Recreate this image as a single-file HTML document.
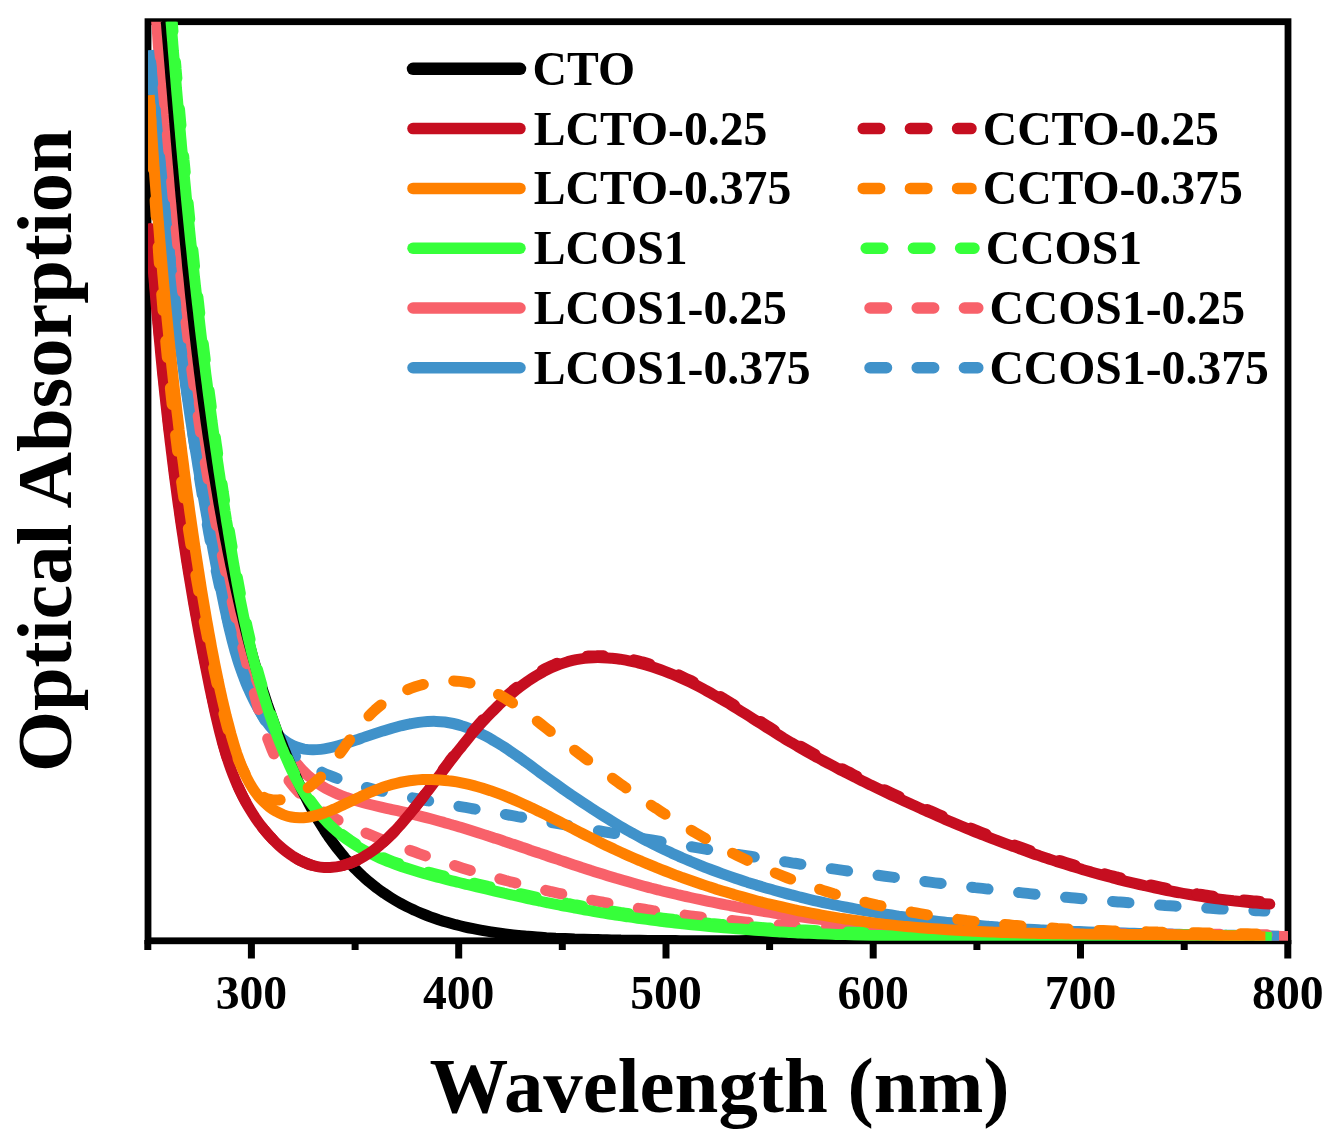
<!DOCTYPE html>
<html><head><meta charset="utf-8"><style>
html,body{margin:0;padding:0;background:#fff;}
svg{display:block;will-change:transform;}
text{font-family:"Liberation Serif",serif;font-weight:bold;fill:#000;}
.tl{font-size:47.7px;}
.at{font-size:78.8px;}
.lg{font-size:47.7px;}
</style></head><body>
<svg width="1336" height="1144" viewBox="0 0 1336 1144">
<defs><clipPath id="pc"><rect x="148" y="21.7" width="1140" height="919.1"/></clipPath></defs>
<rect x="148" y="21.7" width="1140" height="919.1" fill="none" stroke="#000" stroke-width="6.8"/>
<line x1="147.8" y1="940" x2="147.8" y2="950.0" stroke="#000" stroke-width="7"/>
<line x1="251.4" y1="940" x2="251.4" y2="958.5" stroke="#000" stroke-width="7"/>
<text x="251.4" y="1009" text-anchor="middle" class="tl">300</text>
<line x1="355.1" y1="940" x2="355.1" y2="950.0" stroke="#000" stroke-width="7"/>
<line x1="458.7" y1="940" x2="458.7" y2="958.5" stroke="#000" stroke-width="7"/>
<text x="458.7" y="1009" text-anchor="middle" class="tl">400</text>
<line x1="562.3" y1="940" x2="562.3" y2="950.0" stroke="#000" stroke-width="7"/>
<line x1="666.0" y1="940" x2="666.0" y2="958.5" stroke="#000" stroke-width="7"/>
<text x="666.0" y="1009" text-anchor="middle" class="tl">500</text>
<line x1="769.6" y1="940" x2="769.6" y2="950.0" stroke="#000" stroke-width="7"/>
<line x1="873.2" y1="940" x2="873.2" y2="958.5" stroke="#000" stroke-width="7"/>
<text x="873.2" y="1009" text-anchor="middle" class="tl">600</text>
<line x1="976.9" y1="940" x2="976.9" y2="950.0" stroke="#000" stroke-width="7"/>
<line x1="1080.5" y1="940" x2="1080.5" y2="958.5" stroke="#000" stroke-width="7"/>
<text x="1080.5" y="1009" text-anchor="middle" class="tl">700</text>
<line x1="1184.2" y1="940" x2="1184.2" y2="950.0" stroke="#000" stroke-width="7"/>
<line x1="1287.8" y1="940" x2="1287.8" y2="958.5" stroke="#000" stroke-width="7"/>
<text x="1287.8" y="1009" text-anchor="middle" class="tl">800</text>
<g clip-path="url(#pc)" fill="none" stroke-linecap="round" stroke-linejoin="round">
<path d="M156.2 14.5 C156.3 16.1 156.6 20.6 156.8 23.7 C157.1 26.7 157.3 29.8 157.5 32.8 C157.7 35.9 157.9 38.9 158.1 42.0 C158.3 45.0 158.6 48.1 158.8 51.1 C159.0 54.1 159.2 57.2 159.5 60.2 C159.7 63.3 159.9 66.3 160.1 69.3 C160.4 72.4 160.6 75.4 160.9 78.4 C161.1 81.4 161.3 84.5 161.6 87.5 C161.8 90.5 162.1 93.6 162.3 96.6 C162.6 99.6 162.8 102.6 163.1 105.6 C163.3 108.7 163.6 111.7 163.8 114.7 C164.1 117.7 164.4 120.7 164.6 123.7 C164.9 126.8 165.2 129.8 165.4 132.8 C165.7 135.8 166.0 138.8 166.2 141.8 C166.5 144.8 166.8 147.8 167.1 150.8 C167.4 153.8 167.6 156.8 167.9 159.8 C168.2 162.9 168.5 165.9 168.8 168.9 C169.1 171.9 169.4 174.9 169.7 177.9 C170.0 180.9 170.2 183.9 170.5 186.9 C170.8 189.9 171.1 192.9 171.5 195.8 C171.8 198.8 172.1 201.8 172.4 204.8 C172.7 207.8 173.0 210.8 173.3 213.8 C173.6 216.8 173.9 219.8 174.3 222.8 C174.6 225.8 174.9 228.8 175.2 231.8 C175.5 234.7 175.9 237.7 176.2 240.7 C176.5 243.7 176.9 246.7 177.2 249.7 C177.5 252.7 177.9 255.7 178.2 258.7 C178.5 261.6 178.9 264.6 179.2 267.6 C179.6 270.6 179.9 273.6 180.3 276.6 C180.6 279.6 181.0 282.5 181.3 285.5 C181.7 288.5 182.0 291.5 182.4 294.5 C182.7 297.5 183.1 300.4 183.5 303.4 C183.8 306.4 184.2 309.4 184.5 312.4 C184.9 315.4 185.3 318.3 185.7 321.3 C186.0 324.3 186.4 327.3 186.8 330.3 C187.2 333.3 187.5 336.3 187.9 339.2 C188.3 342.2 188.7 345.2 189.1 348.2 C189.4 351.2 189.8 354.2 190.2 357.1 C190.6 360.1 191.0 363.1 191.4 366.1 C191.8 369.1 192.2 372.1 192.6 375.1 C193.0 378.0 193.4 381.0 193.8 384.0 C194.2 387.0 194.6 390.0 195.0 393.0 C195.4 396.0 195.8 399.0 196.2 401.9 C196.6 404.9 197.1 407.9 197.5 410.9 C197.9 413.9 198.3 416.9 198.7 419.9 C199.2 422.9 199.6 425.9 200.0 428.9 C200.4 431.9 200.9 434.8 201.3 437.8 C201.7 440.8 202.1 443.8 202.6 446.8 C203.0 449.8 203.4 452.8 203.9 455.8 C204.3 458.8 204.8 461.8 205.2 464.8 C205.6 467.8 206.1 470.8 206.5 473.8 C207.0 476.8 207.4 479.8 207.9 482.8 C208.3 485.8 208.8 488.8 209.2 491.8 C209.7 494.9 210.2 497.9 210.6 500.9 C211.1 503.9 211.5 506.9 212.0 509.9 C212.5 512.9 212.9 515.9 213.4 518.9 C213.9 521.9 214.4 525.0 214.8 528.0 C215.3 531.0 215.8 534.0 216.3 537.0 C216.8 540.0 217.3 543.0 217.8 546.0 C218.3 549.0 218.9 552.0 219.4 555.0 C219.9 558.0 220.5 561.0 221.0 564.0 C221.6 567.0 222.1 570.0 222.7 573.0 C223.3 576.0 223.9 579.0 224.5 582.0 C225.1 584.9 225.7 587.9 226.3 590.9 C226.9 593.9 227.6 596.8 228.2 599.8 C228.9 602.7 229.6 605.7 230.3 608.6 C230.9 611.6 231.7 614.5 232.4 617.5 C233.1 620.4 233.9 623.3 234.6 626.3 C235.4 629.2 236.2 632.1 237.0 635.0 C237.8 637.9 238.6 640.8 239.4 643.7 C240.3 646.6 241.2 649.4 242.1 652.3 C242.9 655.2 243.9 658.0 244.8 660.9 C245.7 663.7 246.7 666.6 247.7 669.4 C248.7 672.2 249.7 675.1 250.8 677.9 C251.8 680.7 252.9 683.5 254.0 686.3 C255.1 689.0 256.2 691.8 257.3 694.6 C258.5 697.3 259.7 700.1 260.9 702.8 C262.1 705.6 263.4 708.3 264.6 711.0 C265.9 713.7 267.2 716.4 268.6 719.1 C269.9 721.7 271.3 724.4 272.7 727.1 C274.1 729.7 275.6 732.3 277.0 735.0 C278.5 737.6 280.1 740.1 281.6 742.7 C283.2 745.2 284.8 747.7 286.5 750.2 C288.1 752.6 289.8 755.1 291.6 757.4 C293.4 759.7 295.2 762.0 297.1 764.2 C299.0 766.4 300.9 768.6 302.9 770.6 C304.9 772.7 307.0 774.7 309.1 776.6 C311.3 778.4 313.5 780.2 315.8 781.9 C318.0 783.6 320.4 785.1 322.8 786.6 C325.3 788.1 327.8 789.4 330.3 790.7 C332.9 792.0 335.5 793.2 338.2 794.3 C340.8 795.5 343.6 796.5 346.3 797.5 C349.1 798.5 351.9 799.4 354.8 800.3 C357.6 801.2 360.5 802.0 363.4 802.8 C366.3 803.6 369.3 804.3 372.3 805.0 C375.2 805.7 378.2 806.4 381.2 807.1 C384.2 807.8 387.2 808.5 390.2 809.1 C393.2 809.8 396.3 810.4 399.3 811.1 C402.3 811.8 405.3 812.5 408.3 813.2 C411.3 813.9 414.3 814.6 417.3 815.4 C420.3 816.1 423.2 816.8 426.2 817.6 C429.2 818.4 432.1 819.2 435.1 820.0 C438.0 820.8 441.0 821.6 443.9 822.4 C446.9 823.3 449.8 824.1 452.7 825.0 C455.6 825.8 458.5 826.7 461.5 827.6 C464.4 828.5 467.3 829.4 470.2 830.3 C473.1 831.2 476.0 832.1 478.8 833.0 C481.7 833.9 484.6 834.8 487.5 835.8 C490.4 836.7 493.3 837.7 496.1 838.6 C499.0 839.5 501.9 840.5 504.7 841.5 C507.6 842.4 510.5 843.4 513.3 844.3 C516.2 845.3 519.0 846.3 521.9 847.3 C524.7 848.2 527.6 849.2 530.4 850.2 C533.3 851.1 536.1 852.1 539.0 853.1 C541.8 854.1 544.7 855.0 547.5 856.0 C550.4 857.0 553.2 857.9 556.1 858.9 C558.9 859.9 561.8 860.8 564.6 861.8 C567.5 862.8 570.3 863.7 573.2 864.7 C576.0 865.6 578.9 866.5 581.7 867.5 C584.6 868.4 587.4 869.3 590.3 870.3 C593.2 871.2 596.0 872.1 598.9 873.0 C601.8 873.9 604.6 874.8 607.5 875.7 C610.4 876.6 613.2 877.4 616.1 878.3 C619.0 879.1 621.9 880.0 624.8 880.8 C627.7 881.7 630.6 882.5 633.5 883.3 C636.3 884.1 639.2 884.9 642.2 885.7 C645.1 886.5 648.0 887.2 650.9 888.0 C653.8 888.7 656.7 889.5 659.6 890.2 C662.6 891.0 665.5 891.7 668.4 892.4 C671.3 893.1 674.3 893.8 677.2 894.5 C680.2 895.2 683.1 895.9 686.0 896.5 C689.0 897.2 691.9 897.8 694.9 898.5 C697.8 899.1 700.8 899.8 703.7 900.4 C706.7 901.0 709.6 901.6 712.6 902.2 C715.6 902.8 718.5 903.4 721.5 904.0 C724.5 904.6 727.4 905.1 730.4 905.7 C733.4 906.2 736.4 906.8 739.3 907.3 C742.3 907.9 745.3 908.4 748.3 908.9 C751.3 909.4 754.2 909.9 757.2 910.4 C760.2 910.9 763.2 911.4 766.2 911.9 C769.2 912.3 772.2 912.8 775.2 913.3 C778.2 913.7 781.2 914.2 784.2 914.6 C787.2 915.0 790.2 915.5 793.2 915.9 C796.2 916.3 799.2 916.7 802.2 917.1 C805.2 917.5 808.2 917.9 811.2 918.3 C814.2 918.7 817.2 919.0 820.2 919.4 C823.2 919.8 826.2 920.1 829.2 920.5 C832.2 920.8 835.3 921.2 838.3 921.5 C841.3 921.8 844.3 922.2 847.3 922.5 C850.3 922.8 853.3 923.1 856.3 923.4 C859.4 923.7 862.4 924.0 865.4 924.3 C868.4 924.5 871.4 924.8 874.4 925.1 C877.4 925.4 880.5 925.6 883.5 925.9 C886.5 926.1 889.5 926.4 892.5 926.6 C895.5 926.8 898.5 927.1 901.6 927.3 C904.6 927.5 907.6 927.7 910.6 927.9 C913.6 928.1 916.6 928.4 919.6 928.5 C922.7 928.7 925.7 928.9 928.7 929.1 C931.7 929.3 934.7 929.5 937.7 929.7 C940.7 929.8 943.8 930.0 946.8 930.1 C949.8 930.3 952.8 930.5 955.8 930.6 C958.8 930.8 961.8 930.9 964.9 931.0 C967.9 931.2 970.9 931.3 973.9 931.4 C976.9 931.6 979.9 931.7 982.9 931.8 C986.0 931.9 989.0 932.0 992.0 932.1 C995.0 932.3 998.0 932.4 1001.0 932.5 C1004.0 932.6 1007.1 932.7 1010.1 932.7 C1013.1 932.8 1016.1 932.9 1019.1 933.0 C1022.1 933.1 1025.2 933.2 1028.2 933.2 C1031.2 933.3 1034.2 933.4 1037.2 933.5 C1040.2 933.5 1043.2 933.6 1046.3 933.7 C1049.3 933.7 1052.3 933.8 1055.3 933.8 C1058.3 933.9 1061.3 933.9 1064.4 934.0 C1067.4 934.0 1070.4 934.1 1073.4 934.1 C1076.4 934.2 1079.4 934.2 1082.5 934.3 C1085.5 934.3 1088.5 934.3 1091.5 934.4 C1094.5 934.4 1097.5 934.5 1100.6 934.5 C1103.6 934.5 1106.6 934.6 1109.6 934.6 C1112.6 934.6 1115.7 934.6 1118.7 934.7 C1121.7 934.7 1124.7 934.7 1127.7 934.8 C1130.8 934.8 1133.8 934.8 1136.8 934.8 C1139.8 934.9 1142.8 934.9 1145.8 934.9 C1148.9 934.9 1151.9 934.9 1154.9 935.0 C1157.9 935.0 1160.9 935.0 1164.0 935.0 C1167.0 935.1 1170.0 935.1 1173.0 935.1 C1176.1 935.1 1179.1 935.1 1182.1 935.2 C1185.1 935.2 1188.1 935.2 1191.2 935.2 C1194.2 935.3 1197.2 935.3 1200.2 935.3 C1203.3 935.3 1206.3 935.4 1209.3 935.4 C1212.3 935.4 1215.4 935.4 1218.4 935.5 C1221.4 935.5 1224.4 935.5 1227.4 935.6 C1230.5 935.6 1233.5 935.6 1236.5 935.7 C1239.5 935.7 1242.6 935.7 1245.6 935.8 C1248.6 935.8 1251.7 935.9 1254.7 935.9 C1257.7 936.0 1260.7 936.0 1263.8 936.1 C1266.8 936.1 1269.8 936.2 1272.8 936.2 C1275.9 936.3 1278.9 936.3 1281.9 936.4 C1285.0 936.5 1288.0 936.5 1291.0 936.6 C1294.0 936.7 1298.6 936.8 1300.1 936.8" stroke="#F8616A" stroke-width="11" stroke-linecap="butt"/>
<path d="M149.7 50.2 C149.8 51.7 150.2 56.2 150.4 59.2 C150.7 62.2 150.9 65.2 151.2 68.2 C151.5 71.2 151.7 74.2 152.0 77.2 C152.2 80.2 152.5 83.2 152.8 86.2 C153.0 89.2 153.3 92.2 153.6 95.2 C153.8 98.2 154.1 101.2 154.4 104.2 C154.6 107.2 154.9 110.2 155.2 113.2 C155.5 116.3 155.7 119.3 156.0 122.3 C156.3 125.3 156.6 128.3 156.9 131.3 C157.1 134.3 157.4 137.3 157.7 140.3 C158.0 143.4 158.3 146.4 158.6 149.4 C158.9 152.4 159.2 155.4 159.5 158.4 C159.8 161.4 160.1 164.4 160.4 167.5 C160.7 170.5 161.0 173.5 161.3 176.5 C161.6 179.5 161.9 182.5 162.2 185.6 C162.5 188.6 162.8 191.6 163.1 194.6 C163.4 197.6 163.8 200.7 164.1 203.7 C164.4 206.7 164.7 209.7 165.0 212.7 C165.4 215.7 165.7 218.8 166.0 221.8 C166.3 224.8 166.7 227.8 167.0 230.8 C167.3 233.9 167.7 236.9 168.0 239.9 C168.3 242.9 168.7 245.9 169.0 249.0 C169.3 252.0 169.7 255.0 170.0 258.0 C170.4 261.0 170.7 264.0 171.1 267.1 C171.4 270.1 171.8 273.1 172.1 276.1 C172.5 279.1 172.8 282.1 173.2 285.2 C173.5 288.2 173.9 291.2 174.3 294.2 C174.6 297.2 175.0 300.2 175.4 303.3 C175.7 306.3 176.1 309.3 176.5 312.3 C176.8 315.3 177.2 318.3 177.6 321.3 C178.0 324.3 178.3 327.4 178.7 330.4 C179.1 333.4 179.5 336.4 179.9 339.4 C180.3 342.4 180.7 345.4 181.0 348.4 C181.4 351.4 181.8 354.4 182.2 357.4 C182.6 360.4 183.0 363.5 183.4 366.5 C183.8 369.5 184.2 372.5 184.6 375.5 C185.0 378.5 185.4 381.5 185.9 384.5 C186.3 387.5 186.7 390.5 187.1 393.5 C187.5 396.5 187.9 399.4 188.4 402.4 C188.8 405.4 189.2 408.4 189.6 411.4 C190.0 414.4 190.5 417.4 190.9 420.4 C191.3 423.4 191.8 426.4 192.2 429.4 C192.6 432.3 193.1 435.3 193.5 438.3 C194.0 441.3 194.4 444.3 194.9 447.3 C195.3 450.2 195.8 453.2 196.2 456.2 C196.7 459.2 197.1 462.1 197.6 465.1 C198.0 468.1 198.5 471.1 198.9 474.0 C199.4 477.0 199.9 480.0 200.3 482.9 C200.8 485.9 201.3 488.9 201.8 491.8 C202.2 494.8 202.7 497.7 203.2 500.7 C203.7 503.7 204.2 506.6 204.7 509.6 C205.2 512.5 205.7 515.5 206.2 518.5 C206.7 521.4 207.2 524.4 207.8 527.3 C208.3 530.3 208.8 533.3 209.4 536.2 C209.9 539.2 210.5 542.1 211.0 545.1 C211.6 548.1 212.2 551.0 212.8 554.0 C213.3 556.9 213.9 559.9 214.5 562.9 C215.1 565.8 215.7 568.8 216.4 571.7 C217.0 574.7 217.6 577.7 218.3 580.6 C218.9 583.6 219.6 586.6 220.3 589.6 C221.0 592.5 221.6 595.5 222.3 598.5 C223.0 601.4 223.8 604.4 224.5 607.4 C225.2 610.4 226.0 613.4 226.7 616.3 C227.5 619.3 228.3 622.3 229.1 625.3 C229.9 628.3 230.7 631.3 231.5 634.3 C232.4 637.3 233.2 640.3 234.1 643.3 C234.9 646.3 235.8 649.3 236.7 652.3 C237.6 655.3 238.6 658.3 239.5 661.3 C240.5 664.2 241.5 667.2 242.5 670.2 C243.5 673.1 244.6 676.1 245.6 679.0 C246.7 681.9 247.8 684.8 249.0 687.7 C250.2 690.5 251.4 693.4 252.6 696.2 C253.8 699.0 255.1 701.7 256.4 704.5 C257.8 707.2 259.1 709.9 260.6 712.5 C262.0 715.2 263.5 717.8 265.0 720.3 C266.5 722.8 268.1 725.3 269.7 727.7 C271.4 730.2 273.1 732.5 274.8 734.8 C276.6 737.2 278.4 739.4 280.3 741.6 C282.2 743.7 284.2 745.8 286.2 747.9 C288.2 749.9 290.3 751.8 292.5 753.7 C294.6 755.5 296.9 757.3 299.2 759.0 C301.5 760.7 303.9 762.3 306.4 763.8 C308.8 765.4 311.4 766.8 313.9 768.2 C316.5 769.6 319.2 770.9 321.8 772.1 C324.5 773.4 327.3 774.6 330.0 775.7 C332.8 776.8 335.6 777.9 338.5 778.9 C341.3 779.9 344.2 780.9 347.1 781.8 C350.0 782.8 353.0 783.6 355.9 784.5 C358.9 785.4 361.8 786.2 364.8 787.0 C367.8 787.8 370.7 788.5 373.7 789.3 C376.7 790.0 379.7 790.7 382.7 791.4 C385.6 792.2 388.6 792.8 391.6 793.5 C394.6 794.2 397.6 794.8 400.6 795.4 C403.6 796.1 406.6 796.7 409.6 797.3 C412.6 797.9 415.6 798.5 418.6 799.0 C421.6 799.6 424.6 800.2 427.6 800.7 C430.6 801.3 433.6 801.8 436.6 802.4 C439.6 802.9 442.6 803.5 445.6 804.0 C448.6 804.5 451.6 805.0 454.6 805.6 C457.6 806.1 460.6 806.6 463.6 807.1 C466.6 807.6 469.6 808.2 472.6 808.7 C475.6 809.2 478.6 809.7 481.6 810.3 C484.6 810.8 487.6 811.3 490.6 811.8 C493.6 812.4 496.6 812.9 499.6 813.4 C502.6 813.9 505.6 814.5 508.6 815.0 C511.6 815.5 514.6 816.0 517.5 816.6 C520.5 817.1 523.5 817.6 526.5 818.1 C529.5 818.7 532.5 819.2 535.5 819.7 C538.5 820.2 541.4 820.8 544.4 821.3 C547.4 821.8 550.4 822.3 553.4 822.9 C556.4 823.4 559.3 823.9 562.3 824.4 C565.3 825.0 568.3 825.5 571.3 826.0 C574.3 826.5 577.2 827.1 580.2 827.6 C583.2 828.1 586.2 828.6 589.2 829.2 C592.1 829.7 595.1 830.2 598.1 830.7 C601.1 831.2 604.0 831.8 607.0 832.3 C610.0 832.8 613.0 833.3 616.0 833.8 C618.9 834.4 621.9 834.9 624.9 835.4 C627.9 835.9 630.8 836.4 633.8 836.9 C636.8 837.4 639.8 838.0 642.8 838.5 C645.7 839.0 648.7 839.5 651.7 840.0 C654.7 840.5 657.6 841.0 660.6 841.5 C663.6 842.0 666.6 842.6 669.5 843.1 C672.5 843.6 675.5 844.1 678.5 844.6 C681.5 845.1 684.4 845.6 687.4 846.1 C690.4 846.6 693.4 847.1 696.4 847.6 C699.3 848.1 702.3 848.6 705.3 849.1 C708.3 849.6 711.3 850.0 714.2 850.5 C717.2 851.0 720.2 851.5 723.2 852.0 C726.2 852.5 729.2 853.0 732.1 853.5 C735.1 853.9 738.1 854.4 741.1 854.9 C744.1 855.4 747.1 855.9 750.0 856.3 C753.0 856.8 756.0 857.3 759.0 857.8 C762.0 858.2 765.0 858.7 768.0 859.2 C771.0 859.6 774.0 860.1 776.9 860.6 C779.9 861.0 782.9 861.5 785.9 861.9 C788.9 862.4 791.9 862.8 794.9 863.3 C797.9 863.8 800.9 864.2 803.9 864.7 C806.9 865.1 809.9 865.6 812.9 866.0 C815.9 866.4 818.9 866.9 821.9 867.3 C824.9 867.8 827.9 868.2 830.9 868.6 C833.9 869.1 836.9 869.5 839.9 869.9 C842.9 870.4 845.9 870.8 848.9 871.2 C851.9 871.7 854.9 872.1 857.9 872.5 C860.9 872.9 863.9 873.3 866.9 873.8 C869.9 874.2 872.9 874.6 875.9 875.0 C878.9 875.4 881.9 875.8 884.9 876.2 C887.9 876.6 890.9 877.0 893.9 877.4 C896.9 877.8 899.9 878.2 902.9 878.6 C905.9 879.0 908.9 879.4 911.9 879.8 C915.0 880.2 918.0 880.6 921.0 881.0 C924.0 881.3 927.0 881.7 930.0 882.1 C933.0 882.5 936.0 882.9 939.0 883.2 C942.0 883.6 945.0 884.0 948.1 884.4 C951.1 884.7 954.1 885.1 957.1 885.4 C960.1 885.8 963.1 886.2 966.1 886.5 C969.1 886.9 972.2 887.2 975.2 887.6 C978.2 887.9 981.2 888.3 984.2 888.6 C987.2 889.0 990.2 889.3 993.2 889.7 C996.3 890.0 999.3 890.3 1002.3 890.7 C1005.3 891.0 1008.3 891.3 1011.3 891.7 C1014.4 892.0 1017.4 892.3 1020.4 892.6 C1023.4 892.9 1026.4 893.3 1029.4 893.6 C1032.5 893.9 1035.5 894.2 1038.5 894.5 C1041.5 894.8 1044.5 895.1 1047.5 895.4 C1050.6 895.7 1053.6 896.0 1056.6 896.3 C1059.6 896.6 1062.6 896.9 1065.6 897.2 C1068.7 897.5 1071.7 897.8 1074.7 898.0 C1077.7 898.3 1080.7 898.6 1083.8 898.9 C1086.8 899.2 1089.8 899.4 1092.8 899.7 C1095.8 900.0 1098.8 900.2 1101.9 900.5 C1104.9 900.7 1107.9 901.0 1110.9 901.3 C1113.9 901.5 1117.0 901.8 1120.0 902.0 C1123.0 902.3 1126.0 902.5 1129.0 902.7 C1132.1 903.0 1135.1 903.2 1138.1 903.5 C1141.1 903.7 1144.1 903.9 1147.2 904.1 C1150.2 904.4 1153.2 904.6 1156.2 904.8 C1159.2 905.0 1162.3 905.2 1165.3 905.5 C1168.3 905.7 1171.3 905.9 1174.3 906.1 C1177.4 906.3 1180.4 906.5 1183.4 906.7 C1186.4 906.9 1189.4 907.1 1192.5 907.3 C1195.5 907.4 1198.5 907.6 1201.5 907.8 C1204.5 908.0 1207.6 908.2 1210.6 908.3 C1213.6 908.5 1216.6 908.7 1219.6 908.9 C1222.7 909.0 1225.7 909.2 1228.7 909.3 C1231.7 909.5 1234.7 909.7 1237.8 909.8 C1240.8 910.0 1243.8 910.1 1246.8 910.2 C1249.8 910.4 1252.9 910.5 1255.9 910.7 C1258.9 910.8 1263.4 911.0 1264.9 911.0" stroke="#4092CA" stroke-width="11" stroke-dasharray="16.5 30.7" stroke-dashoffset="-6"/>
<path d="M149.3 50.2 C149.4 51.7 149.9 56.2 150.2 59.2 C150.5 62.1 150.8 65.1 151.1 68.1 C151.4 71.1 151.7 74.1 152.0 77.1 C152.3 80.1 152.6 83.1 152.8 86.1 C153.1 89.1 153.4 92.1 153.7 95.1 C154.0 98.1 154.3 101.1 154.6 104.1 C154.9 107.1 155.2 110.1 155.5 113.2 C155.8 116.2 156.0 119.2 156.3 122.2 C156.6 125.2 156.9 128.2 157.2 131.2 C157.5 134.2 157.8 137.2 158.1 140.2 C158.4 143.3 158.7 146.3 158.9 149.3 C159.2 152.3 159.5 155.3 159.8 158.3 C160.1 161.3 160.4 164.4 160.7 167.4 C161.0 170.4 161.3 173.4 161.6 176.4 C161.9 179.4 162.2 182.5 162.5 185.5 C162.8 188.5 163.1 191.5 163.4 194.5 C163.6 197.5 163.9 200.6 164.3 203.6 C164.6 206.6 164.9 209.6 165.2 212.6 C165.5 215.7 165.8 218.7 166.1 221.7 C166.4 224.7 166.7 227.7 167.0 230.7 C167.3 233.8 167.6 236.8 167.9 239.8 C168.3 242.8 168.6 245.8 168.9 248.8 C169.2 251.9 169.5 254.9 169.9 257.9 C170.2 260.9 170.5 263.9 170.8 266.9 C171.2 270.0 171.5 273.0 171.8 276.0 C172.2 279.0 172.5 282.0 172.9 285.0 C173.2 288.0 173.5 291.0 173.9 294.1 C174.2 297.1 174.6 300.1 174.9 303.1 C175.3 306.1 175.6 309.1 176.0 312.1 C176.4 315.1 176.7 318.1 177.1 321.1 C177.5 324.1 177.8 327.1 178.2 330.1 C178.6 333.1 179.0 336.1 179.3 339.1 C179.7 342.1 180.1 345.1 180.5 348.1 C180.9 351.1 181.3 354.1 181.7 357.1 C182.1 360.1 182.5 363.1 182.9 366.1 C183.3 369.1 183.7 372.1 184.1 375.1 C184.5 378.0 185.0 381.0 185.4 384.0 C185.8 387.0 186.2 390.0 186.7 393.0 C187.1 396.0 187.5 398.9 188.0 401.9 C188.4 404.9 188.8 407.9 189.3 410.9 C189.7 413.9 190.2 416.8 190.6 419.8 C191.1 422.8 191.5 425.8 192.0 428.8 C192.5 431.7 192.9 434.7 193.4 437.7 C193.9 440.7 194.4 443.6 194.8 446.6 C195.3 449.6 195.8 452.6 196.3 455.5 C196.8 458.5 197.3 461.5 197.7 464.5 C198.2 467.4 198.7 470.4 199.2 473.4 C199.7 476.4 200.3 479.3 200.8 482.3 C201.3 485.3 201.8 488.3 202.3 491.2 C202.8 494.2 203.3 497.2 203.9 500.1 C204.4 503.1 204.9 506.1 205.5 509.1 C206.0 512.0 206.5 515.0 207.1 518.0 C207.6 521.0 208.2 523.9 208.7 526.9 C209.3 529.9 209.8 532.8 210.4 535.8 C210.9 538.8 211.5 541.8 212.1 544.7 C212.6 547.7 213.2 550.7 213.8 553.7 C214.4 556.6 214.9 559.6 215.5 562.6 C216.1 565.6 216.7 568.5 217.3 571.5 C217.9 574.5 218.5 577.5 219.1 580.4 C219.7 583.4 220.3 586.4 220.9 589.4 C221.5 592.3 222.1 595.3 222.7 598.3 C223.3 601.3 223.9 604.3 224.5 607.2 C225.2 610.2 225.8 613.2 226.5 616.2 C227.1 619.2 227.8 622.1 228.4 625.1 C229.1 628.1 229.8 631.1 230.6 634.0 C231.3 637.0 232.0 639.9 232.8 642.9 C233.6 645.9 234.4 648.8 235.2 651.7 C236.1 654.7 237.0 657.6 237.9 660.6 C238.8 663.5 239.8 666.4 240.8 669.3 C241.8 672.2 242.8 675.1 244.0 678.0 C245.1 680.9 246.2 683.8 247.4 686.6 C248.7 689.5 249.9 692.3 251.3 695.2 C252.6 698.0 254.0 700.8 255.5 703.6 C256.9 706.4 258.5 709.2 260.1 711.8 C261.7 714.5 263.3 717.1 265.1 719.7 C266.8 722.2 268.6 724.6 270.5 726.9 C272.3 729.2 274.3 731.4 276.3 733.4 C278.3 735.5 280.4 737.4 282.6 739.1 C284.8 740.8 287.0 742.3 289.3 743.7 C291.7 745.0 294.1 746.1 296.5 747.0 C299.0 747.9 301.6 748.6 304.2 749.1 C306.8 749.5 309.5 749.8 312.3 749.8 C315.0 749.9 317.8 749.7 320.7 749.4 C323.5 749.1 326.4 748.5 329.3 747.9 C332.2 747.3 335.2 746.5 338.1 745.7 C341.1 744.9 344.1 743.9 347.1 743.0 C350.1 742.0 353.1 741.0 356.1 740.0 C359.1 739.0 362.1 737.9 365.1 736.9 C368.1 735.9 371.1 734.9 374.1 733.9 C377.1 732.9 380.2 731.9 383.2 730.9 C386.2 730.0 389.2 729.1 392.2 728.2 C395.1 727.4 398.1 726.6 401.1 725.8 C404.1 725.1 407.1 724.4 410.0 723.8 C413.0 723.3 415.9 722.8 418.8 722.4 C421.8 722.0 424.7 721.7 427.6 721.5 C430.5 721.4 433.4 721.3 436.2 721.4 C439.1 721.5 442.0 721.7 444.8 722.0 C447.6 722.4 450.4 722.9 453.2 723.5 C456.0 724.1 458.8 724.9 461.5 725.8 C464.3 726.6 467.0 727.6 469.7 728.7 C472.5 729.7 475.2 730.9 477.9 732.2 C480.5 733.4 483.2 734.8 485.9 736.2 C488.6 737.6 491.2 739.1 493.8 740.7 C496.5 742.2 499.1 743.8 501.7 745.5 C504.3 747.2 507.0 748.9 509.6 750.7 C512.1 752.4 514.7 754.2 517.3 756.0 C519.9 757.9 522.5 759.7 525.0 761.6 C527.6 763.4 530.2 765.3 532.7 767.2 C535.3 769.1 537.8 770.9 540.3 772.8 C542.9 774.7 545.4 776.5 548.0 778.4 C550.5 780.2 553.0 782.0 555.6 783.8 C558.1 785.6 560.6 787.4 563.1 789.2 C565.7 791.0 568.2 792.7 570.7 794.5 C573.2 796.2 575.8 797.9 578.3 799.6 C580.8 801.3 583.3 803.0 585.9 804.7 C588.4 806.4 590.9 808.0 593.5 809.7 C596.0 811.3 598.6 812.9 601.1 814.5 C603.6 816.1 606.2 817.7 608.8 819.3 C611.3 820.9 613.9 822.4 616.4 823.9 C619.0 825.5 621.6 827.0 624.2 828.5 C626.8 830.0 629.4 831.4 632.0 832.9 C634.6 834.3 637.2 835.8 639.8 837.2 C642.4 838.6 645.1 840.0 647.7 841.4 C650.4 842.7 653.0 844.1 655.7 845.4 C658.4 846.8 661.0 848.1 663.7 849.4 C666.4 850.7 669.1 851.9 671.9 853.2 C674.6 854.4 677.3 855.7 680.0 856.9 C682.8 858.1 685.5 859.3 688.3 860.4 C691.1 861.6 693.8 862.8 696.6 863.9 C699.4 865.0 702.2 866.2 705.0 867.3 C707.8 868.4 710.6 869.4 713.5 870.5 C716.3 871.6 719.1 872.6 721.9 873.6 C724.8 874.6 727.6 875.6 730.5 876.6 C733.3 877.6 736.2 878.6 739.1 879.5 C742.0 880.5 744.8 881.4 747.7 882.4 C750.6 883.3 753.5 884.2 756.4 885.1 C759.3 885.9 762.2 886.8 765.1 887.7 C768.0 888.5 770.9 889.4 773.9 890.2 C776.8 891.0 779.7 891.8 782.7 892.6 C785.6 893.4 788.5 894.2 791.5 894.9 C794.4 895.7 797.4 896.4 800.3 897.1 C803.3 897.9 806.2 898.6 809.2 899.3 C812.1 900.0 815.1 900.7 818.1 901.3 C821.0 902.0 824.0 902.7 827.0 903.3 C829.9 903.9 832.9 904.6 835.9 905.2 C838.9 905.8 841.8 906.4 844.8 907.0 C847.8 907.6 850.8 908.1 853.7 908.7 C856.7 909.3 859.7 909.8 862.7 910.3 C865.7 910.9 868.7 911.4 871.6 911.9 C874.6 912.4 877.6 912.9 880.6 913.4 C883.6 913.9 886.6 914.4 889.6 914.8 C892.6 915.3 895.6 915.7 898.6 916.2 C901.6 916.6 904.5 917.0 907.5 917.4 C910.5 917.9 913.5 918.3 916.5 918.7 C919.5 919.1 922.5 919.4 925.5 919.8 C928.5 920.2 931.5 920.6 934.5 920.9 C937.5 921.3 940.5 921.6 943.5 921.9 C946.5 922.3 949.6 922.6 952.6 922.9 C955.6 923.2 958.6 923.5 961.6 923.8 C964.6 924.1 967.6 924.4 970.6 924.7 C973.6 925.0 976.6 925.2 979.6 925.5 C982.7 925.8 985.7 926.0 988.7 926.3 C991.7 926.5 994.7 926.7 997.7 927.0 C1000.7 927.2 1003.7 927.4 1006.8 927.6 C1009.8 927.9 1012.8 928.1 1015.8 928.3 C1018.8 928.5 1021.9 928.7 1024.9 928.9 C1027.9 929.0 1030.9 929.2 1033.9 929.4 C1036.9 929.6 1040.0 929.7 1043.0 929.9 C1046.0 930.1 1049.0 930.2 1052.1 930.4 C1055.1 930.5 1058.1 930.7 1061.1 930.8 C1064.1 930.9 1067.2 931.1 1070.2 931.2 C1073.2 931.3 1076.2 931.5 1079.3 931.6 C1082.3 931.7 1085.3 931.8 1088.3 931.9 C1091.4 932.0 1094.4 932.1 1097.4 932.2 C1100.4 932.4 1103.5 932.5 1106.5 932.5 C1109.5 932.6 1112.5 932.7 1115.6 932.8 C1118.6 932.9 1121.6 933.0 1124.7 933.1 C1127.7 933.2 1130.7 933.2 1133.7 933.3 C1136.8 933.4 1139.8 933.5 1142.8 933.5 C1145.8 933.6 1148.9 933.7 1151.9 933.7 C1154.9 933.8 1158.0 933.9 1161.0 933.9 C1164.0 934.0 1167.0 934.1 1170.1 934.1 C1173.1 934.2 1176.1 934.2 1179.2 934.3 C1182.2 934.4 1185.2 934.4 1188.2 934.5 C1191.3 934.5 1194.3 934.6 1197.3 934.6 C1200.3 934.7 1203.4 934.8 1206.4 934.8 C1209.4 934.9 1212.4 934.9 1215.5 935.0 C1218.5 935.0 1221.5 935.1 1224.6 935.2 C1227.6 935.2 1230.6 935.3 1233.6 935.3 C1236.7 935.4 1239.7 935.5 1242.7 935.5 C1245.7 935.6 1248.7 935.6 1251.8 935.7 C1254.8 935.8 1257.8 935.8 1260.8 935.9 C1263.9 936.0 1266.9 936.0 1269.9 936.1 C1272.9 936.2 1277.5 936.3 1279.0 936.3" stroke="#4092CA" stroke-width="11" stroke-linecap="butt"/>
<path d="M156.4 15.4 C156.5 16.9 157.0 21.4 157.2 24.4 C157.5 27.3 157.8 30.3 158.1 33.3 C158.4 36.3 158.6 39.2 158.9 42.2 C159.2 45.2 159.5 48.2 159.7 51.2 C160.0 54.2 160.3 57.2 160.6 60.1 C160.8 63.1 161.1 66.1 161.4 69.1 C161.7 72.1 161.9 75.1 162.2 78.1 C162.5 81.1 162.8 84.1 163.0 87.1 C163.3 90.1 163.6 93.1 163.8 96.1 C164.1 99.1 164.4 102.1 164.7 105.1 C164.9 108.1 165.2 111.1 165.5 114.1 C165.7 117.1 166.0 120.1 166.3 123.1 C166.6 126.1 166.8 129.2 167.1 132.2 C167.4 135.2 167.7 138.2 167.9 141.2 C168.2 144.2 168.5 147.2 168.7 150.2 C169.0 153.3 169.3 156.3 169.6 159.3 C169.8 162.3 170.1 165.3 170.4 168.3 C170.7 171.4 171.0 174.4 171.2 177.4 C171.5 180.4 171.8 183.4 172.1 186.4 C172.4 189.5 172.6 192.5 172.9 195.5 C173.2 198.5 173.5 201.5 173.8 204.6 C174.1 207.6 174.4 210.6 174.7 213.6 C174.9 216.7 175.2 219.7 175.5 222.7 C175.8 225.7 176.1 228.7 176.4 231.8 C176.7 234.8 177.0 237.8 177.3 240.8 C177.6 243.8 177.9 246.9 178.2 249.9 C178.5 252.9 178.8 255.9 179.2 258.9 C179.5 262.0 179.8 265.0 180.1 268.0 C180.4 271.0 180.7 274.0 181.0 277.1 C181.4 280.1 181.7 283.1 182.0 286.1 C182.3 289.1 182.7 292.2 183.0 295.2 C183.3 298.2 183.7 301.2 184.0 304.2 C184.3 307.2 184.7 310.2 185.0 313.3 C185.3 316.3 185.7 319.3 186.0 322.3 C186.4 325.3 186.7 328.3 187.1 331.3 C187.5 334.3 187.8 337.4 188.2 340.4 C188.5 343.4 188.9 346.4 189.3 349.4 C189.6 352.4 190.0 355.4 190.4 358.4 C190.8 361.4 191.1 364.4 191.5 367.4 C191.9 370.4 192.3 373.4 192.7 376.4 C193.1 379.4 193.5 382.4 193.9 385.4 C194.3 388.4 194.7 391.4 195.1 394.4 C195.5 397.4 195.9 400.3 196.3 403.3 C196.7 406.3 197.2 409.3 197.6 412.3 C198.0 415.3 198.5 418.3 198.9 421.2 C199.3 424.2 199.8 427.2 200.2 430.2 C200.7 433.2 201.1 436.1 201.6 439.1 C202.0 442.1 202.5 445.0 202.9 448.0 C203.4 451.0 203.9 453.9 204.3 456.9 C204.8 459.9 205.3 462.8 205.8 465.8 C206.3 468.8 206.8 471.7 207.3 474.7 C207.8 477.6 208.3 480.6 208.8 483.5 C209.3 486.5 209.8 489.4 210.3 492.4 C210.8 495.3 211.4 498.3 211.9 501.2 C212.4 504.2 212.9 507.1 213.5 510.0 C214.0 513.0 214.6 515.9 215.1 518.9 C215.7 521.8 216.2 524.7 216.8 527.7 C217.4 530.6 217.9 533.6 218.5 536.5 C219.1 539.4 219.7 542.4 220.2 545.3 C220.8 548.2 221.4 551.2 222.0 554.1 C222.6 557.1 223.2 560.0 223.8 562.9 C224.4 565.9 225.1 568.8 225.7 571.8 C226.3 574.7 226.9 577.6 227.6 580.6 C228.2 583.5 228.8 586.5 229.5 589.4 C230.1 592.4 230.8 595.3 231.4 598.3 C232.1 601.2 232.7 604.2 233.4 607.1 C234.1 610.1 234.7 613.0 235.4 616.0 C236.1 619.0 236.8 621.9 237.5 624.9 C238.2 627.9 238.9 630.8 239.6 633.8 C240.3 636.8 241.0 639.7 241.7 642.7 C242.4 645.7 243.1 648.7 243.9 651.7 C244.6 654.7 245.3 657.6 246.1 660.6 C246.8 663.6 247.5 666.6 248.3 669.6 C249.0 672.6 249.8 675.6 250.6 678.6 C251.3 681.7 252.1 684.7 252.9 687.7 C253.6 690.7 254.4 693.7 255.2 696.8 C256.0 699.8 256.8 702.8 257.6 705.8 C258.4 708.9 259.3 711.9 260.1 714.9 C261.0 717.9 261.9 720.9 262.8 723.8 C263.7 726.8 264.7 729.7 265.6 732.7 C266.6 735.6 267.6 738.5 268.7 741.3 C269.8 744.2 270.9 747.0 272.0 749.8 C273.2 752.5 274.4 755.3 275.7 757.9 C277.0 760.6 278.3 763.2 279.7 765.8 C281.1 768.4 282.5 770.9 284.0 773.4 C285.6 775.8 287.2 778.2 288.9 780.5 C290.5 782.8 292.3 785.1 294.1 787.2 C296.0 789.4 297.9 791.4 299.9 793.5 C301.9 795.5 304.0 797.4 306.2 799.2 C308.3 801.1 310.6 802.9 312.9 804.6 C315.2 806.3 317.5 808.0 320.0 809.6 C322.4 811.2 324.9 812.7 327.4 814.2 C329.9 815.7 332.5 817.2 335.1 818.6 C337.7 820.0 340.4 821.3 343.1 822.7 C345.8 824.0 348.5 825.3 351.2 826.6 C354.0 827.8 356.7 829.1 359.5 830.3 C362.3 831.5 365.1 832.7 367.9 833.8 C370.7 835.0 373.5 836.2 376.3 837.3 C379.1 838.5 382.0 839.6 384.8 840.7 C387.6 841.9 390.4 843.0 393.3 844.1 C396.1 845.2 398.9 846.2 401.8 847.3 C404.6 848.4 407.5 849.4 410.3 850.5 C413.2 851.5 416.0 852.5 418.9 853.6 C421.7 854.6 424.6 855.6 427.5 856.6 C430.3 857.6 433.2 858.6 436.1 859.5 C438.9 860.5 441.8 861.4 444.7 862.4 C447.6 863.3 450.5 864.3 453.4 865.2 C456.3 866.1 459.1 867.0 462.0 867.9 C464.9 868.8 467.8 869.7 470.7 870.6 C473.7 871.4 476.6 872.3 479.5 873.1 C482.4 874.0 485.3 874.8 488.2 875.6 C491.1 876.5 494.1 877.3 497.0 878.1 C499.9 878.9 502.8 879.7 505.8 880.5 C508.7 881.2 511.6 882.0 514.6 882.8 C517.5 883.5 520.4 884.3 523.4 885.0 C526.3 885.7 529.3 886.5 532.2 887.2 C535.2 887.9 538.1 888.6 541.1 889.3 C544.0 890.0 547.0 890.7 549.9 891.3 C552.9 892.0 555.8 892.7 558.8 893.3 C561.8 894.0 564.7 894.6 567.7 895.2 C570.6 895.9 573.6 896.5 576.6 897.1 C579.6 897.7 582.5 898.3 585.5 898.9 C588.5 899.5 591.4 900.1 594.4 900.6 C597.4 901.2 600.4 901.8 603.4 902.3 C606.3 902.9 609.3 903.4 612.3 904.0 C615.3 904.5 618.3 905.0 621.3 905.5 C624.3 906.0 627.2 906.6 630.2 907.0 C633.2 907.5 636.2 908.0 639.2 908.5 C642.2 909.0 645.2 909.5 648.2 909.9 C651.2 910.4 654.2 910.8 657.2 911.3 C660.2 911.7 663.2 912.1 666.1 912.6 C669.1 913.0 672.1 913.4 675.1 913.8 C678.1 914.2 681.1 914.6 684.1 915.0 C687.1 915.4 690.1 915.8 693.1 916.2 C696.1 916.6 699.1 916.9 702.1 917.3 C705.1 917.6 708.1 918.0 711.1 918.3 C714.1 918.7 717.2 919.0 720.2 919.3 C723.2 919.7 726.2 920.0 729.2 920.3 C732.2 920.6 735.2 920.9 738.2 921.2 C741.2 921.5 744.2 921.8 747.2 922.1 C750.2 922.4 753.2 922.7 756.2 922.9 C759.2 923.2 762.2 923.5 765.2 923.7 C768.2 924.0 771.2 924.3 774.2 924.5 C777.3 924.7 780.3 925.0 783.3 925.2 C786.3 925.4 789.3 925.7 792.3 925.9 C795.3 926.1 798.3 926.3 801.3 926.5 C804.3 926.7 807.3 926.9 810.4 927.1 C813.4 927.3 816.4 927.5 819.4 927.7 C822.4 927.9 825.4 928.1 828.4 928.3 C831.4 928.4 834.4 928.6 837.5 928.8 C840.5 928.9 843.5 929.1 846.5 929.2 C849.5 929.4 852.5 929.5 855.5 929.7 C858.6 929.8 861.6 930.0 864.6 930.1 C867.6 930.2 870.6 930.4 873.6 930.5 C876.7 930.6 879.7 930.7 882.7 930.8 C885.7 931.0 888.7 931.1 891.7 931.2 C894.8 931.3 897.8 931.4 900.8 931.5 C903.8 931.6 906.8 931.7 909.9 931.8 C912.9 931.9 915.9 932.0 918.9 932.0 C921.9 932.1 925.0 932.2 928.0 932.3 C931.0 932.4 934.0 932.4 937.0 932.5 C940.1 932.6 943.1 932.7 946.1 932.7 C949.1 932.8 952.1 932.8 955.2 932.9 C958.2 933.0 961.2 933.0 964.2 933.1 C967.3 933.1 970.3 933.2 973.3 933.2 C976.3 933.3 979.4 933.3 982.4 933.4 C985.4 933.4 988.4 933.4 991.5 933.5 C994.5 933.5 997.5 933.5 1000.5 933.6 C1003.6 933.6 1006.6 933.6 1009.6 933.7 C1012.6 933.7 1015.7 933.7 1018.7 933.7 C1021.7 933.8 1024.7 933.8 1027.8 933.8 C1030.8 933.8 1033.8 933.9 1036.9 933.9 C1039.9 933.9 1042.9 933.9 1045.9 933.9 C1049.0 933.9 1052.0 934.0 1055.0 934.0 C1058.0 934.0 1061.1 934.0 1064.1 934.0 C1067.1 934.0 1070.2 934.0 1073.2 934.0 C1076.2 934.0 1079.2 934.0 1082.3 934.1 C1085.3 934.1 1088.3 934.1 1091.4 934.1 C1094.4 934.1 1097.4 934.1 1100.4 934.1 C1103.5 934.1 1106.5 934.1 1109.5 934.1 C1112.5 934.1 1115.6 934.1 1118.6 934.1 C1121.6 934.1 1124.7 934.1 1127.7 934.1 C1130.7 934.1 1133.7 934.1 1136.8 934.1 C1139.8 934.1 1142.8 934.1 1145.8 934.1 C1148.9 934.1 1151.9 934.1 1154.9 934.1 C1157.9 934.1 1161.0 934.1 1164.0 934.2 C1167.0 934.2 1170.0 934.2 1173.1 934.2 C1176.1 934.2 1179.1 934.2 1182.1 934.2 C1185.2 934.2 1188.2 934.2 1191.2 934.2 C1194.2 934.2 1197.3 934.2 1200.3 934.3 C1203.3 934.3 1206.3 934.3 1209.4 934.3 C1212.4 934.3 1215.4 934.3 1218.4 934.3 C1221.4 934.4 1224.5 934.4 1227.5 934.4 C1230.5 934.4 1233.5 934.5 1236.5 934.5 C1239.6 934.5 1242.6 934.5 1245.6 934.6 C1248.6 934.6 1251.6 934.6 1254.7 934.7 C1257.7 934.7 1260.7 934.7 1263.7 934.8 C1266.7 934.8 1269.8 934.8 1272.8 934.9 C1275.8 934.9 1278.8 935.0 1281.8 935.0 C1284.8 935.1 1287.8 935.1 1290.9 935.2 C1293.9 935.2 1298.4 935.3 1299.9 935.3" stroke="#F8616A" stroke-width="11" stroke-dasharray="16.5 30.7" stroke-dashoffset="22"/>
<path d="M165.7 15.1 C165.8 16.6 166.2 21.1 166.5 24.1 C166.7 27.1 167.0 30.1 167.2 33.2 C167.5 36.2 167.8 39.2 168.0 42.2 C168.3 45.2 168.5 48.2 168.8 51.2 C169.0 54.2 169.3 57.2 169.5 60.2 C169.8 63.2 170.0 66.2 170.3 69.2 C170.5 72.3 170.8 75.3 171.0 78.3 C171.3 81.3 171.6 84.3 171.8 87.3 C172.1 90.3 172.3 93.3 172.6 96.3 C172.8 99.4 173.1 102.4 173.3 105.4 C173.6 108.4 173.8 111.4 174.1 114.4 C174.3 117.4 174.6 120.4 174.8 123.4 C175.1 126.5 175.3 129.5 175.6 132.5 C175.8 135.5 176.1 138.5 176.3 141.5 C176.6 144.5 176.9 147.5 177.1 150.6 C177.4 153.6 177.6 156.6 177.9 159.6 C178.1 162.6 178.4 165.6 178.7 168.6 C178.9 171.6 179.2 174.7 179.5 177.7 C179.7 180.7 180.0 183.7 180.2 186.7 C180.5 189.7 180.8 192.7 181.0 195.7 C181.3 198.8 181.6 201.8 181.9 204.8 C182.1 207.8 182.4 210.8 182.7 213.8 C183.0 216.8 183.2 219.8 183.5 222.9 C183.8 225.9 184.1 228.9 184.4 231.9 C184.6 234.9 184.9 237.9 185.2 240.9 C185.5 243.9 185.8 246.9 186.1 250.0 C186.4 253.0 186.7 256.0 187.0 259.0 C187.2 262.0 187.5 265.0 187.8 268.0 C188.1 271.0 188.5 274.0 188.8 277.0 C189.1 280.0 189.4 283.1 189.7 286.1 C190.0 289.1 190.3 292.1 190.6 295.1 C190.9 298.1 191.3 301.1 191.6 304.1 C191.9 307.1 192.2 310.1 192.6 313.1 C192.9 316.1 193.2 319.1 193.6 322.1 C193.9 325.1 194.2 328.1 194.6 331.1 C194.9 334.1 195.3 337.1 195.6 340.1 C196.0 343.1 196.3 346.2 196.7 349.2 C197.0 352.2 197.4 355.2 197.8 358.1 C198.1 361.1 198.5 364.1 198.9 367.1 C199.2 370.1 199.6 373.1 200.0 376.1 C200.4 379.1 200.8 382.1 201.1 385.1 C201.5 388.1 201.9 391.1 202.3 394.1 C202.7 397.1 203.1 400.1 203.5 403.1 C203.9 406.1 204.3 409.1 204.8 412.1 C205.2 415.0 205.6 418.0 206.0 421.0 C206.4 424.0 206.9 427.0 207.3 430.0 C207.7 433.0 208.2 436.0 208.6 438.9 C209.1 441.9 209.5 444.9 210.0 447.9 C210.4 450.9 210.9 453.9 211.3 456.8 C211.8 459.8 212.3 462.8 212.7 465.8 C213.2 468.8 213.7 471.7 214.2 474.7 C214.7 477.7 215.2 480.7 215.7 483.7 C216.2 486.6 216.7 489.6 217.2 492.6 C217.7 495.5 218.2 498.5 218.7 501.5 C219.2 504.5 219.8 507.4 220.3 510.4 C220.8 513.4 221.4 516.3 221.9 519.3 C222.4 522.3 223.0 525.2 223.5 528.2 C224.1 531.2 224.7 534.1 225.2 537.1 C225.8 540.0 226.4 543.0 227.0 546.0 C227.5 548.9 228.1 551.9 228.7 554.8 C229.3 557.8 229.9 560.7 230.5 563.7 C231.1 566.7 231.8 569.6 232.4 572.6 C233.0 575.5 233.6 578.5 234.3 581.4 C234.9 584.3 235.6 587.3 236.2 590.2 C236.9 593.2 237.5 596.1 238.2 599.1 C238.9 602.0 239.6 604.9 240.2 607.9 C240.9 610.8 241.6 613.7 242.4 616.7 C243.1 619.6 243.8 622.5 244.5 625.5 C245.2 628.4 246.0 631.3 246.7 634.2 C247.5 637.1 248.3 640.1 249.0 643.0 C249.8 645.9 250.6 648.8 251.4 651.7 C252.2 654.6 253.0 657.5 253.8 660.4 C254.7 663.3 255.5 666.2 256.3 669.1 C257.2 672.0 258.1 674.9 258.9 677.8 C259.8 680.7 260.7 683.6 261.6 686.5 C262.5 689.3 263.4 692.2 264.4 695.1 C265.3 698.0 266.3 700.8 267.2 703.7 C268.2 706.6 269.2 709.4 270.2 712.3 C271.1 715.1 272.2 718.0 273.2 720.8 C274.2 723.7 275.3 726.5 276.3 729.4 C277.4 732.2 278.5 735.1 279.6 737.9 C280.6 740.7 281.8 743.5 282.9 746.4 C284.0 749.2 285.2 752.0 286.3 754.8 C287.5 757.6 288.7 760.4 289.9 763.2 C291.1 766.0 292.3 768.8 293.5 771.6 C294.8 774.4 296.0 777.2 297.3 780.0 C298.6 782.7 299.9 785.5 301.2 788.3 C302.6 791.0 303.9 793.8 305.3 796.5 C306.7 799.3 308.1 802.0 309.5 804.7 C310.9 807.4 312.4 810.1 313.9 812.7 C315.4 815.4 316.9 818.1 318.4 820.7 C320.0 823.3 321.6 825.9 323.2 828.4 C324.9 831.0 326.5 833.5 328.2 836.0 C330.0 838.5 331.7 841.0 333.5 843.4 C335.3 845.9 337.1 848.3 339.0 850.6 C340.9 853.0 342.8 855.3 344.7 857.6 C346.7 859.8 348.7 862.1 350.7 864.2 C352.7 866.4 354.8 868.6 356.9 870.6 C359.0 872.7 361.1 874.8 363.3 876.8 C365.5 878.7 367.7 880.7 370.0 882.6 C372.2 884.4 374.5 886.3 376.8 888.0 C379.1 889.8 381.5 891.5 383.9 893.1 C386.3 894.8 388.7 896.4 391.2 897.9 C393.6 899.4 396.1 900.9 398.6 902.3 C401.2 903.7 403.7 905.1 406.3 906.4 C408.9 907.7 411.5 908.9 414.2 910.1 C416.8 911.4 419.5 912.5 422.2 913.6 C424.9 914.7 427.6 915.8 430.3 916.8 C433.1 917.8 435.8 918.7 438.6 919.7 C441.4 920.6 444.3 921.5 447.1 922.3 C449.9 923.1 452.8 923.9 455.7 924.7 C458.6 925.4 461.5 926.1 464.4 926.8 C467.3 927.5 470.2 928.1 473.2 928.7 C476.1 929.3 479.1 929.9 482.1 930.4 C485.1 931.0 488.1 931.5 491.1 931.9 C494.1 932.4 497.1 932.9 500.2 933.3 C503.2 933.7 506.3 934.1 509.3 934.4 C512.4 934.8 515.4 935.1 518.5 935.4 C521.6 935.8 524.7 936.0 527.8 936.3 C530.9 936.6 534.0 936.8 537.1 937.0 C540.2 937.3 543.3 937.5 546.4 937.7 C549.5 937.8 552.6 938.0 555.7 938.2 C558.9 938.3 562.0 938.5 565.1 938.6 C568.2 938.7 571.3 938.8 574.5 939.0 C577.6 939.1 580.7 939.2 583.8 939.2 C586.9 939.3 590.0 939.4 593.1 939.5 C596.2 939.6 599.3 939.6 602.4 939.7 C605.5 939.8 608.6 939.8 611.7 939.9 C614.8 939.9 617.9 940.0 620.9 940.1 C624.0 940.1 627.1 940.1 630.1 940.2 C633.2 940.2 636.2 940.3 639.3 940.3 C642.3 940.4 645.4 940.4 648.4 940.4 C651.5 940.4 654.5 940.5 657.5 940.5 C660.6 940.5 663.6 940.6 666.6 940.6 C669.7 940.6 672.7 940.6 675.7 940.6 C678.7 940.6 681.7 940.7 684.7 940.7 C687.8 940.7 690.8 940.7 693.8 940.7 C696.8 940.7 699.8 940.7 702.8 940.7 C705.8 940.7 708.8 940.7 711.8 940.7 C714.8 940.7 717.8 940.7 720.8 940.7 C723.8 940.7 726.8 940.7 729.7 940.7 C732.7 940.7 735.7 940.7 738.7 940.7 C741.7 940.7 744.7 940.7 747.7 940.6 C750.7 940.6 753.6 940.6 756.6 940.6 C759.6 940.6 762.6 940.6 765.6 940.6 C768.6 940.6 771.5 940.6 774.5 940.5 C777.5 940.5 780.5 940.5 783.5 940.5 C786.5 940.5 789.5 940.5 792.4 940.5 C795.4 940.4 798.4 940.4 801.4 940.4 C804.4 940.4 807.4 940.4 810.4 940.4 C813.4 940.4 816.4 940.4 819.4 940.3 C822.4 940.3 825.4 940.3 828.3 940.3 C831.3 940.3 834.4 940.3 837.4 940.3 C840.4 940.3 843.4 940.3 846.4 940.3 C849.4 940.3 852.4 940.3 855.4 940.3 C858.4 940.3 861.4 940.3 864.4 940.3 C867.4 940.2 870.5 940.2 873.5 940.2 C876.5 940.2 879.5 940.2 882.5 940.2 C885.6 940.2 888.6 940.2 891.6 940.2 C894.6 940.2 897.7 940.2 900.7 940.2 C903.7 940.3 906.7 940.3 909.8 940.3 C912.8 940.3 915.8 940.3 918.8 940.3 C921.9 940.3 924.9 940.3 927.9 940.3 C931.0 940.3 934.0 940.3 937.0 940.3 C940.1 940.3 943.1 940.3 946.1 940.3 C949.2 940.3 952.2 940.3 955.3 940.3 C958.3 940.3 961.3 940.3 964.4 940.3 C967.4 940.4 970.5 940.4 973.5 940.4 C976.5 940.4 979.6 940.4 982.6 940.4 C985.7 940.4 988.7 940.4 991.7 940.4 C994.8 940.4 997.8 940.4 1000.9 940.4 C1003.9 940.4 1006.9 940.5 1010.0 940.5 C1013.0 940.5 1016.1 940.5 1019.1 940.5 C1022.1 940.5 1025.2 940.5 1028.2 940.5 C1031.3 940.5 1034.3 940.5 1037.4 940.5 C1040.4 940.5 1043.4 940.5 1046.5 940.6 C1049.5 940.6 1052.6 940.6 1055.6 940.6 C1058.6 940.6 1061.7 940.6 1064.7 940.6 C1067.8 940.6 1070.8 940.6 1073.8 940.6 C1076.9 940.6 1079.9 940.6 1082.9 940.6 C1086.0 940.6 1089.0 940.6 1092.0 940.6 C1095.1 940.6 1098.1 940.7 1101.1 940.7 C1104.2 940.7 1107.2 940.7 1110.2 940.7 C1113.3 940.7 1116.3 940.7 1119.3 940.7 C1122.4 940.7 1125.4 940.7 1128.4 940.7 C1131.4 940.7 1134.5 940.7 1137.5 940.7 C1140.5 940.7 1143.5 940.7 1146.5 940.7 C1149.6 940.7 1152.6 940.7 1155.6 940.7 C1158.6 940.7 1161.6 940.7 1164.6 940.7 C1167.7 940.7 1170.7 940.6 1173.7 940.6 C1176.7 940.6 1179.7 940.6 1182.7 940.6 C1185.7 940.6 1188.7 940.6 1191.7 940.6 C1194.7 940.6 1197.7 940.6 1200.7 940.6 C1203.7 940.6 1206.7 940.5 1209.7 940.5 C1212.7 940.5 1215.7 940.5 1218.7 940.5 C1221.7 940.5 1224.7 940.5 1227.7 940.4 C1230.7 940.4 1233.6 940.4 1236.6 940.4 C1239.6 940.4 1242.6 940.3 1245.6 940.3 C1248.5 940.3 1253.0 940.3 1254.5 940.3" stroke="#000" stroke-width="11" stroke-linecap="butt"/>
<path d="M171.6 14.8 C171.8 16.3 172.1 20.8 172.4 23.9 C172.6 26.9 172.9 29.9 173.1 32.9 C173.4 36.0 173.6 39.0 173.9 42.0 C174.1 45.1 174.4 48.1 174.6 51.1 C174.9 54.1 175.1 57.2 175.4 60.2 C175.6 63.2 175.9 66.2 176.1 69.2 C176.4 72.3 176.6 75.3 176.9 78.3 C177.1 81.3 177.4 84.3 177.6 87.4 C177.9 90.4 178.2 93.4 178.4 96.4 C178.7 99.4 178.9 102.5 179.2 105.5 C179.5 108.5 179.7 111.5 180.0 114.5 C180.3 117.5 180.5 120.5 180.8 123.6 C181.1 126.6 181.3 129.6 181.6 132.6 C181.9 135.6 182.1 138.6 182.4 141.6 C182.7 144.6 182.9 147.7 183.2 150.7 C183.5 153.7 183.8 156.7 184.0 159.7 C184.3 162.7 184.6 165.7 184.9 168.7 C185.2 171.7 185.4 174.7 185.7 177.7 C186.0 180.8 186.3 183.8 186.6 186.8 C186.9 189.8 187.2 192.8 187.4 195.8 C187.7 198.8 188.0 201.8 188.3 204.8 C188.6 207.8 188.9 210.8 189.2 213.8 C189.5 216.8 189.8 219.8 190.1 222.8 C190.4 225.8 190.7 228.8 191.0 231.8 C191.3 234.8 191.6 237.8 191.9 240.8 C192.2 243.8 192.5 246.8 192.8 249.8 C193.2 252.8 193.5 255.8 193.8 258.8 C194.1 261.8 194.4 264.8 194.7 267.8 C195.1 270.8 195.4 273.8 195.7 276.8 C196.0 279.8 196.3 282.8 196.7 285.8 C197.0 288.8 197.3 291.8 197.7 294.8 C198.0 297.8 198.3 300.8 198.7 303.8 C199.0 306.8 199.3 309.8 199.7 312.8 C200.0 315.8 200.4 318.8 200.7 321.8 C201.1 324.8 201.4 327.8 201.8 330.7 C202.1 333.7 202.5 336.7 202.8 339.7 C203.2 342.7 203.5 345.7 203.9 348.7 C204.3 351.7 204.6 354.7 205.0 357.7 C205.3 360.7 205.7 363.7 206.1 366.7 C206.5 369.7 206.8 372.6 207.2 375.6 C207.6 378.6 208.0 381.6 208.3 384.6 C208.7 387.6 209.1 390.6 209.5 393.6 C209.9 396.6 210.3 399.6 210.7 402.6 C211.1 405.5 211.4 408.5 211.8 411.5 C212.2 414.5 212.6 417.5 213.1 420.5 C213.5 423.5 213.9 426.5 214.3 429.5 C214.7 432.5 215.1 435.4 215.5 438.4 C215.9 441.4 216.3 444.4 216.8 447.4 C217.2 450.4 217.6 453.4 218.0 456.4 C218.5 459.4 218.9 462.3 219.3 465.3 C219.8 468.3 220.2 471.3 220.7 474.3 C221.1 477.3 221.5 480.3 222.0 483.3 C222.4 486.3 222.9 489.2 223.3 492.2 C223.8 495.2 224.2 498.2 224.7 501.2 C225.2 504.2 225.6 507.2 226.1 510.2 C226.6 513.2 227.0 516.1 227.5 519.1 C228.0 522.1 228.5 525.1 228.9 528.1 C229.4 531.1 229.9 534.1 230.4 537.1 C230.9 540.1 231.4 543.0 231.9 546.0 C232.4 549.0 232.9 552.0 233.4 555.0 C233.9 558.0 234.4 561.0 234.9 564.0 C235.5 566.9 236.0 569.9 236.5 572.9 C237.1 575.9 237.6 578.9 238.2 581.9 C238.7 584.8 239.3 587.8 239.8 590.8 C240.4 593.8 241.0 596.7 241.6 599.7 C242.1 602.7 242.7 605.7 243.3 608.6 C243.9 611.6 244.6 614.6 245.2 617.5 C245.8 620.5 246.5 623.5 247.1 626.4 C247.8 629.4 248.4 632.3 249.1 635.3 C249.8 638.2 250.4 641.2 251.1 644.1 C251.8 647.1 252.6 650.0 253.3 653.0 C254.0 655.9 254.8 658.8 255.5 661.8 C256.3 664.7 257.0 667.6 257.8 670.6 C258.6 673.5 259.4 676.4 260.2 679.3 C261.0 682.2 261.9 685.1 262.7 688.1 C263.6 691.0 264.5 693.9 265.3 696.8 C266.2 699.7 267.1 702.5 268.1 705.4 C269.0 708.3 269.9 711.2 270.9 714.1 C271.8 717.0 272.8 719.8 273.8 722.7 C274.8 725.6 275.8 728.4 276.9 731.3 C277.9 734.1 279.0 737.0 280.1 739.8 C281.2 742.7 282.3 745.5 283.4 748.3 C284.5 751.1 285.7 754.0 286.9 756.7 C288.1 759.5 289.3 762.3 290.6 765.1 C291.8 767.8 293.1 770.5 294.4 773.2 C295.8 775.9 297.2 778.6 298.6 781.2 C300.0 783.8 301.5 786.4 303.0 789.0 C304.5 791.5 306.1 794.0 307.7 796.5 C309.4 798.9 311.0 801.4 312.8 803.7 C314.5 806.1 316.3 808.4 318.2 810.6 C320.0 812.9 321.9 815.1 323.9 817.2 C325.8 819.3 327.8 821.4 329.9 823.4 C332.0 825.5 334.1 827.4 336.3 829.3 C338.4 831.2 340.6 833.1 342.9 834.9 C345.2 836.6 347.5 838.3 349.9 840.0 C352.3 841.6 354.7 843.2 357.2 844.7 C359.7 846.2 362.2 847.6 364.8 849.0 C367.4 850.4 370.0 851.7 372.7 853.0 C375.3 854.3 378.0 855.5 380.8 856.6 C383.5 857.8 386.3 858.9 389.1 860.0 C391.9 861.1 394.7 862.1 397.6 863.1 C400.5 864.1 403.3 865.0 406.3 865.9 C409.2 866.8 412.1 867.7 415.1 868.6 C418.0 869.4 421.0 870.3 424.0 871.1 C426.9 871.9 429.9 872.6 432.9 873.4 C435.9 874.2 438.9 874.9 442.0 875.6 C445.0 876.4 448.0 877.1 451.0 877.8 C454.0 878.5 457.0 879.2 460.1 879.9 C463.1 880.6 466.1 881.3 469.1 882.0 C472.1 882.7 475.1 883.4 478.1 884.1 C481.1 884.8 484.0 885.5 487.0 886.2 C490.0 886.9 493.0 887.6 496.0 888.3 C499.0 888.9 501.9 889.6 504.9 890.3 C507.9 891.0 510.8 891.6 513.8 892.3 C516.8 892.9 519.8 893.6 522.7 894.2 C525.7 894.9 528.6 895.5 531.6 896.2 C534.6 896.8 537.5 897.4 540.5 898.0 C543.5 898.7 546.4 899.3 549.4 899.9 C552.3 900.5 555.3 901.1 558.3 901.7 C561.2 902.2 564.2 902.8 567.1 903.4 C570.1 903.9 573.1 904.5 576.0 905.0 C579.0 905.6 582.0 906.1 584.9 906.6 C587.9 907.2 590.9 907.7 593.9 908.2 C596.8 908.7 599.8 909.2 602.8 909.7 C605.7 910.2 608.7 910.6 611.7 911.1 C614.7 911.6 617.7 912.0 620.6 912.5 C623.6 912.9 626.6 913.4 629.6 913.8 C632.6 914.2 635.5 914.6 638.5 915.1 C641.5 915.5 644.5 915.9 647.5 916.3 C650.5 916.7 653.4 917.0 656.4 917.4 C659.4 917.8 662.4 918.2 665.4 918.5 C668.4 918.9 671.4 919.2 674.4 919.6 C677.4 919.9 680.4 920.3 683.4 920.6 C686.4 920.9 689.3 921.3 692.3 921.6 C695.3 921.9 698.3 922.2 701.3 922.5 C704.3 922.8 707.3 923.1 710.3 923.4 C713.3 923.6 716.3 923.9 719.3 924.2 C722.3 924.5 725.3 924.7 728.3 925.0 C731.3 925.2 734.3 925.5 737.4 925.7 C740.4 926.0 743.4 926.2 746.4 926.4 C749.4 926.7 752.4 926.9 755.4 927.1 C758.4 927.3 761.4 927.5 764.4 927.7 C767.4 927.9 770.4 928.1 773.4 928.3 C776.5 928.5 779.5 928.7 782.5 928.9 C785.5 929.0 788.5 929.2 791.5 929.4 C794.5 929.6 797.5 929.7 800.6 929.9 C803.6 930.0 806.6 930.2 809.6 930.3 C812.6 930.5 815.6 930.6 818.6 930.8 C821.7 930.9 824.7 931.0 827.7 931.1 C830.7 931.3 833.7 931.4 836.7 931.5 C839.8 931.6 842.8 931.7 845.8 931.9 C848.8 932.0 851.8 932.1 854.9 932.2 C857.9 932.3 860.9 932.4 863.9 932.5 C866.9 932.5 870.0 932.6 873.0 932.7 C876.0 932.8 879.0 932.9 882.0 933.0 C885.1 933.0 888.1 933.1 891.1 933.2 C894.1 933.2 897.1 933.3 900.2 933.4 C903.2 933.4 906.2 933.5 909.2 933.5 C912.3 933.6 915.3 933.6 918.3 933.7 C921.3 933.7 924.4 933.8 927.4 933.8 C930.4 933.9 933.4 933.9 936.5 933.9 C939.5 934.0 942.5 934.0 945.5 934.1 C948.6 934.1 951.6 934.1 954.6 934.1 C957.6 934.2 960.7 934.2 963.7 934.2 C966.7 934.2 969.7 934.3 972.8 934.3 C975.8 934.3 978.8 934.3 981.8 934.3 C984.9 934.3 987.9 934.4 990.9 934.4 C993.9 934.4 997.0 934.4 1000.0 934.4 C1003.0 934.4 1006.0 934.4 1009.1 934.4 C1012.1 934.4 1015.1 934.4 1018.1 934.4 C1021.2 934.4 1024.2 934.5 1027.2 934.5 C1030.2 934.5 1033.3 934.5 1036.3 934.5 C1039.3 934.5 1042.4 934.5 1045.4 934.5 C1048.4 934.5 1051.4 934.5 1054.5 934.5 C1057.5 934.5 1060.5 934.5 1063.5 934.5 C1066.6 934.5 1069.6 934.4 1072.6 934.4 C1075.6 934.4 1078.7 934.4 1081.7 934.4 C1084.7 934.4 1087.7 934.4 1090.8 934.4 C1093.8 934.4 1096.8 934.4 1099.8 934.4 C1102.9 934.4 1105.9 934.4 1108.9 934.4 C1111.9 934.4 1115.0 934.4 1118.0 934.4 C1121.0 934.5 1124.0 934.5 1127.0 934.5 C1130.1 934.5 1133.1 934.5 1136.1 934.5 C1139.1 934.5 1142.2 934.5 1145.2 934.5 C1148.2 934.5 1151.2 934.5 1154.2 934.5 C1157.3 934.6 1160.3 934.6 1163.3 934.6 C1166.3 934.6 1169.3 934.6 1172.4 934.7 C1175.4 934.7 1178.4 934.7 1181.4 934.7 C1184.4 934.7 1187.5 934.8 1190.5 934.8 C1193.5 934.8 1196.5 934.9 1199.5 934.9 C1202.6 934.9 1205.6 935.0 1208.6 935.0 C1211.6 935.1 1214.6 935.1 1217.6 935.1 C1220.6 935.2 1223.7 935.2 1226.7 935.3 C1229.7 935.3 1232.7 935.4 1235.7 935.5 C1238.7 935.5 1241.7 935.6 1244.8 935.6 C1247.8 935.7 1250.8 935.8 1253.8 935.8 C1256.8 935.9 1259.8 936.0 1262.8 936.1 C1265.8 936.2 1270.4 936.3 1271.9 936.3" stroke="#36FF3A" stroke-width="11" stroke-dasharray="16.5 30.7"/>
<path d="M170.5 14.7 C170.6 16.3 171.0 20.8 171.2 23.8 C171.5 26.9 171.7 29.9 171.9 32.9 C172.2 36.0 172.4 39.0 172.7 42.0 C172.9 45.1 173.2 48.1 173.4 51.1 C173.7 54.2 173.9 57.2 174.2 60.2 C174.4 63.3 174.7 66.3 174.9 69.3 C175.2 72.3 175.4 75.4 175.7 78.4 C175.9 81.4 176.2 84.4 176.4 87.5 C176.7 90.5 176.9 93.5 177.2 96.5 C177.5 99.6 177.7 102.6 178.0 105.6 C178.2 108.6 178.5 111.7 178.8 114.7 C179.0 117.7 179.3 120.7 179.6 123.7 C179.8 126.7 180.1 129.8 180.4 132.8 C180.6 135.8 180.9 138.8 181.2 141.8 C181.4 144.8 181.7 147.9 182.0 150.9 C182.3 153.9 182.5 156.9 182.8 159.9 C183.1 162.9 183.4 165.9 183.7 169.0 C183.9 172.0 184.2 175.0 184.5 178.0 C184.8 181.0 185.1 184.0 185.4 187.0 C185.7 190.0 185.9 193.0 186.2 196.0 C186.5 199.1 186.8 202.1 187.1 205.1 C187.4 208.1 187.7 211.1 188.0 214.1 C188.3 217.1 188.6 220.1 188.9 223.1 C189.2 226.1 189.5 229.1 189.8 232.1 C190.1 235.1 190.4 238.1 190.7 241.1 C191.0 244.1 191.4 247.1 191.7 250.1 C192.0 253.1 192.3 256.1 192.6 259.1 C192.9 262.2 193.2 265.2 193.6 268.2 C193.9 271.2 194.2 274.2 194.5 277.2 C194.9 280.2 195.2 283.2 195.5 286.2 C195.9 289.2 196.2 292.2 196.5 295.2 C196.9 298.2 197.2 301.1 197.5 304.1 C197.9 307.1 198.2 310.1 198.6 313.1 C198.9 316.1 199.2 319.1 199.6 322.1 C199.9 325.1 200.3 328.1 200.6 331.1 C201.0 334.1 201.3 337.1 201.7 340.1 C202.1 343.1 202.4 346.1 202.8 349.1 C203.1 352.1 203.5 355.1 203.9 358.1 C204.2 361.1 204.6 364.1 205.0 367.1 C205.4 370.1 205.7 373.1 206.1 376.1 C206.5 379.0 206.9 382.0 207.3 385.0 C207.6 388.0 208.0 391.0 208.4 394.0 C208.8 397.0 209.2 400.0 209.6 403.0 C210.0 406.0 210.4 409.0 210.8 412.0 C211.2 415.0 211.6 418.0 212.0 421.0 C212.4 424.0 212.8 427.0 213.2 429.9 C213.6 432.9 214.0 435.9 214.4 438.9 C214.9 441.9 215.3 444.9 215.7 447.9 C216.1 450.9 216.6 453.9 217.0 456.9 C217.4 459.9 217.8 462.9 218.3 465.9 C218.7 468.9 219.1 471.9 219.6 474.8 C220.0 477.8 220.5 480.8 220.9 483.8 C221.4 486.8 221.8 489.8 222.3 492.8 C222.7 495.8 223.2 498.8 223.6 501.8 C224.1 504.8 224.6 507.8 225.0 510.8 C225.5 513.8 226.0 516.8 226.4 519.8 C226.9 522.8 227.4 525.7 227.9 528.7 C228.3 531.7 228.8 534.7 229.3 537.7 C229.8 540.7 230.3 543.7 230.8 546.7 C231.3 549.7 231.8 552.7 232.3 555.7 C232.8 558.7 233.3 561.7 233.8 564.7 C234.4 567.7 234.9 570.7 235.4 573.6 C235.9 576.6 236.5 579.6 237.0 582.6 C237.6 585.6 238.1 588.6 238.7 591.6 C239.3 594.6 239.8 597.5 240.4 600.5 C241.0 603.5 241.6 606.5 242.2 609.4 C242.8 612.4 243.4 615.4 244.0 618.4 C244.7 621.3 245.3 624.3 246.0 627.3 C246.6 630.2 247.3 633.2 247.9 636.2 C248.6 639.1 249.3 642.1 250.0 645.0 C250.7 648.0 251.4 650.9 252.1 653.9 C252.9 656.8 253.6 659.7 254.4 662.7 C255.1 665.6 255.9 668.5 256.7 671.5 C257.5 674.4 258.3 677.3 259.1 680.2 C259.9 683.2 260.8 686.1 261.6 689.0 C262.5 691.9 263.4 694.8 264.3 697.7 C265.2 700.6 266.1 703.5 267.0 706.4 C267.9 709.3 268.9 712.1 269.8 715.0 C270.8 717.9 271.8 720.8 272.8 723.6 C273.8 726.5 274.9 729.4 275.9 732.2 C277.0 735.1 278.0 737.9 279.1 740.7 C280.2 743.6 281.4 746.4 282.5 749.2 C283.7 752.0 284.8 754.9 286.0 757.6 C287.2 760.4 288.5 763.2 289.7 765.9 C291.0 768.7 292.3 771.4 293.7 774.1 C295.0 776.8 296.4 779.5 297.9 782.1 C299.3 784.7 300.8 787.3 302.3 789.8 C303.9 792.4 305.4 794.9 307.1 797.3 C308.7 799.8 310.4 802.2 312.2 804.6 C313.9 806.9 315.7 809.2 317.6 811.5 C319.4 813.7 321.3 815.9 323.3 818.1 C325.2 820.2 327.3 822.3 329.3 824.4 C331.4 826.4 333.5 828.4 335.7 830.3 C337.8 832.2 340.1 834.1 342.3 835.9 C344.6 837.7 346.9 839.4 349.3 841.1 C351.7 842.8 354.1 844.4 356.6 845.9 C359.1 847.4 361.6 848.9 364.1 850.3 C366.7 851.8 369.3 853.1 372.0 854.4 C374.6 855.7 377.3 857.0 380.0 858.2 C382.8 859.4 385.5 860.5 388.3 861.7 C391.1 862.8 393.9 863.8 396.8 864.9 C399.6 865.9 402.5 866.9 405.4 867.8 C408.3 868.8 411.2 869.7 414.2 870.6 C417.1 871.5 420.1 872.4 423.0 873.2 C426.0 874.1 429.0 874.9 432.0 875.7 C435.0 876.5 438.0 877.3 441.0 878.0 C444.0 878.8 447.0 879.6 450.0 880.3 C453.0 881.0 456.0 881.8 459.0 882.5 C462.0 883.2 465.0 884.0 468.0 884.7 C471.0 885.4 474.0 886.1 477.0 886.9 C480.0 887.6 483.0 888.3 486.0 889.0 C489.0 889.7 492.0 890.4 494.9 891.1 C497.9 891.8 500.9 892.5 503.9 893.2 C506.9 893.8 509.8 894.5 512.8 895.2 C515.8 895.9 518.7 896.5 521.7 897.2 C524.7 897.8 527.7 898.5 530.6 899.1 C533.6 899.8 536.6 900.4 539.5 901.0 C542.5 901.7 545.5 902.3 548.4 902.9 C551.4 903.5 554.4 904.1 557.3 904.7 C560.3 905.3 563.3 905.8 566.2 906.4 C569.2 907.0 572.2 907.5 575.1 908.1 C578.1 908.6 581.1 909.2 584.1 909.7 C587.0 910.2 590.0 910.8 593.0 911.3 C596.0 911.8 598.9 912.3 601.9 912.8 C604.9 913.3 607.9 913.7 610.9 914.2 C613.8 914.7 616.8 915.1 619.8 915.6 C622.8 916.0 625.8 916.5 628.8 916.9 C631.7 917.4 634.7 917.8 637.7 918.2 C640.7 918.6 643.7 919.0 646.7 919.4 C649.7 919.8 652.7 920.2 655.7 920.6 C658.6 921.0 661.6 921.3 664.6 921.7 C667.6 922.0 670.6 922.4 673.6 922.7 C676.6 923.1 679.6 923.4 682.6 923.8 C685.6 924.1 688.6 924.4 691.6 924.7 C694.6 925.0 697.6 925.3 700.6 925.6 C703.6 925.9 706.6 926.2 709.6 926.5 C712.6 926.8 715.6 927.1 718.6 927.3 C721.6 927.6 724.6 927.9 727.6 928.1 C730.6 928.4 733.7 928.6 736.7 928.8 C739.7 929.1 742.7 929.3 745.7 929.5 C748.7 929.8 751.7 930.0 754.7 930.2 C757.7 930.4 760.7 930.6 763.7 930.8 C766.8 931.0 769.8 931.2 772.8 931.4 C775.8 931.6 778.8 931.7 781.8 931.9 C784.8 932.1 787.9 932.2 790.9 932.4 C793.9 932.6 796.9 932.7 799.9 932.9 C802.9 933.0 806.0 933.1 809.0 933.3 C812.0 933.4 815.0 933.5 818.0 933.7 C821.1 933.8 824.1 933.9 827.1 934.0 C830.1 934.1 833.1 934.2 836.2 934.4 C839.2 934.5 842.2 934.6 845.2 934.6 C848.2 934.7 851.3 934.8 854.3 934.9 C857.3 935.0 860.3 935.1 863.4 935.2 C866.4 935.2 869.4 935.3 872.4 935.4 C875.5 935.4 878.5 935.5 881.5 935.5 C884.5 935.6 887.6 935.7 890.6 935.7 C893.6 935.8 896.6 935.8 899.7 935.8 C902.7 935.9 905.7 935.9 908.7 936.0 C911.8 936.0 914.8 936.0 917.8 936.1 C920.9 936.1 923.9 936.1 926.9 936.1 C929.9 936.2 933.0 936.2 936.0 936.2 C939.0 936.2 942.1 936.2 945.1 936.2 C948.1 936.3 951.1 936.3 954.2 936.3 C957.2 936.3 960.2 936.3 963.3 936.3 C966.3 936.3 969.3 936.3 972.4 936.3 C975.4 936.3 978.4 936.3 981.4 936.3 C984.5 936.3 987.5 936.3 990.5 936.3 C993.6 936.2 996.6 936.2 999.6 936.2 C1002.7 936.2 1005.7 936.2 1008.7 936.2 C1011.8 936.2 1014.8 936.2 1017.8 936.1 C1020.8 936.1 1023.9 936.1 1026.9 936.1 C1029.9 936.1 1033.0 936.1 1036.0 936.0 C1039.0 936.0 1042.1 936.0 1045.1 936.0 C1048.1 936.0 1051.1 935.9 1054.2 935.9 C1057.2 935.9 1060.2 935.9 1063.3 935.9 C1066.3 935.8 1069.3 935.8 1072.4 935.8 C1075.4 935.8 1078.4 935.8 1081.4 935.8 C1084.5 935.7 1087.5 935.7 1090.5 935.7 C1093.6 935.7 1096.6 935.7 1099.6 935.7 C1102.6 935.7 1105.7 935.6 1108.7 935.6 C1111.7 935.6 1114.8 935.6 1117.8 935.6 C1120.8 935.6 1123.8 935.6 1126.9 935.6 C1129.9 935.6 1132.9 935.6 1135.9 935.6 C1139.0 935.6 1142.0 935.6 1145.0 935.6 C1148.1 935.6 1151.1 935.6 1154.1 935.6 C1157.1 935.6 1160.2 935.6 1163.2 935.6 C1166.2 935.6 1169.2 935.6 1172.2 935.6 C1175.3 935.7 1178.3 935.7 1181.3 935.7 C1184.3 935.7 1187.4 935.7 1190.4 935.8 C1193.4 935.8 1196.4 935.8 1199.4 935.9 C1202.5 935.9 1205.5 935.9 1208.5 936.0 C1211.5 936.0 1214.5 936.1 1217.6 936.1 C1220.6 936.2 1223.6 936.2 1226.6 936.3 C1229.6 936.3 1232.7 936.4 1235.7 936.4 C1238.7 936.5 1241.7 936.6 1244.7 936.7 C1247.7 936.7 1250.7 936.8 1253.8 936.9 C1256.8 937.0 1259.8 937.1 1262.8 937.1 C1265.8 937.2 1270.3 937.4 1271.8 937.4" stroke="#36FF3A" stroke-width="11" stroke-linecap="butt"/>
<path d="M150.1 228.8 C150.2 230.3 150.6 234.8 150.8 237.9 C151.0 240.9 151.2 244.0 151.5 247.0 C151.7 250.1 151.9 253.1 152.2 256.1 C152.4 259.2 152.7 262.2 152.9 265.2 C153.2 268.3 153.4 271.3 153.6 274.3 C153.9 277.4 154.1 280.4 154.4 283.4 C154.6 286.5 154.9 289.5 155.2 292.5 C155.4 295.6 155.7 298.6 155.9 301.6 C156.2 304.6 156.5 307.7 156.7 310.7 C157.0 313.7 157.3 316.7 157.5 319.8 C157.8 322.8 158.1 325.8 158.4 328.8 C158.6 331.9 158.9 334.9 159.2 337.9 C159.5 340.9 159.8 343.9 160.1 347.0 C160.3 350.0 160.6 353.0 160.9 356.0 C161.2 359.0 161.5 362.0 161.8 365.0 C162.1 368.1 162.4 371.1 162.7 374.1 C163.0 377.1 163.4 380.1 163.7 383.1 C164.0 386.1 164.3 389.1 164.6 392.2 C164.9 395.2 165.3 398.2 165.6 401.2 C165.9 404.2 166.3 407.2 166.6 410.2 C166.9 413.2 167.3 416.2 167.6 419.2 C167.9 422.2 168.3 425.2 168.6 428.2 C169.0 431.2 169.3 434.2 169.7 437.2 C170.0 440.2 170.4 443.2 170.8 446.2 C171.1 449.2 171.5 452.2 171.9 455.2 C172.2 458.2 172.6 461.2 173.0 464.2 C173.4 467.2 173.7 470.2 174.1 473.2 C174.5 476.2 174.9 479.2 175.3 482.2 C175.7 485.2 176.1 488.2 176.5 491.2 C176.9 494.2 177.3 497.2 177.7 500.2 C178.1 503.2 178.5 506.2 179.0 509.2 C179.4 512.1 179.8 515.1 180.2 518.1 C180.7 521.1 181.1 524.1 181.5 527.1 C182.0 530.1 182.4 533.1 182.9 536.1 C183.3 539.1 183.7 542.1 184.2 545.0 C184.7 548.0 185.1 551.0 185.6 554.0 C186.0 557.0 186.5 560.0 187.0 563.0 C187.5 566.0 187.9 568.9 188.4 571.9 C188.9 574.9 189.4 577.9 189.9 580.9 C190.4 583.9 190.9 586.9 191.4 589.9 C191.9 592.8 192.4 595.8 192.9 598.8 C193.4 601.8 193.9 604.8 194.5 607.8 C195.0 610.8 195.5 613.7 196.1 616.7 C196.6 619.7 197.1 622.7 197.7 625.7 C198.2 628.7 198.8 631.7 199.3 634.6 C199.9 637.6 200.4 640.6 201.0 643.6 C201.6 646.6 202.2 649.6 202.7 652.5 C203.3 655.5 203.9 658.5 204.5 661.5 C205.1 664.5 205.7 667.5 206.3 670.5 C206.9 673.4 207.5 676.4 208.1 679.4 C208.7 682.4 209.3 685.4 209.9 688.4 C210.6 691.3 211.2 694.3 211.8 697.3 C212.5 700.3 213.1 703.3 213.8 706.3 C214.4 709.3 215.1 712.2 215.7 715.2 C216.4 718.2 217.1 721.2 217.8 724.1 C218.5 727.1 219.2 730.1 220.0 733.0 C220.8 736.0 221.5 738.9 222.3 741.9 C223.1 744.8 224.0 747.7 224.9 750.7 C225.7 753.6 226.6 756.5 227.6 759.4 C228.5 762.3 229.5 765.1 230.5 768.0 C231.6 770.9 232.6 773.7 233.8 776.5 C234.9 779.4 236.1 782.2 237.3 785.0 C238.5 787.7 239.8 790.5 241.2 793.3 C242.5 796.0 243.9 798.7 245.4 801.4 C246.8 804.1 248.4 806.8 250.0 809.4 C251.6 812.1 253.3 814.7 255.0 817.3 C256.8 819.9 258.6 822.5 260.5 825.0 C262.4 827.5 264.3 829.9 266.3 832.3 C268.3 834.7 270.4 837.0 272.6 839.2 C274.7 841.4 276.9 843.6 279.1 845.6 C281.4 847.7 283.7 849.6 286.0 851.4 C288.4 853.2 290.8 854.9 293.2 856.5 C295.6 858.0 298.1 859.5 300.6 860.7 C303.1 862.0 305.7 863.1 308.3 864.0 C310.8 865.0 313.5 865.7 316.1 866.3 C318.7 866.9 321.4 867.3 324.1 867.4 C326.8 867.6 329.5 867.6 332.3 867.3 C335.0 867.1 337.7 866.7 340.5 866.1 C343.2 865.5 345.9 864.7 348.6 863.7 C351.4 862.8 354.1 861.6 356.7 860.4 C359.4 859.1 362.0 857.7 364.6 856.1 C367.2 854.6 369.8 852.9 372.3 851.1 C374.8 849.3 377.2 847.4 379.6 845.4 C382.0 843.4 384.4 841.3 386.7 839.1 C389.0 836.9 391.3 834.7 393.5 832.4 C395.8 830.1 397.9 827.7 400.1 825.3 C402.2 822.9 404.3 820.4 406.4 817.9 C408.5 815.5 410.5 813.0 412.5 810.5 C414.5 808.0 416.5 805.5 418.4 803.1 C420.4 800.6 422.3 798.1 424.1 795.7 C426.0 793.2 427.9 790.8 429.7 788.4 C431.5 786.0 433.3 783.6 435.1 781.2 C436.9 778.8 438.7 776.4 440.5 774.0 C442.3 771.6 444.1 769.3 445.9 766.9 C447.7 764.5 449.4 762.2 451.2 759.9 C453.0 757.5 454.8 755.2 456.6 752.8 C458.5 750.5 460.3 748.2 462.2 745.9 C464.0 743.6 465.9 741.2 467.8 738.9 C469.7 736.6 471.6 734.3 473.6 732.0 C475.6 729.7 477.6 727.4 479.6 725.1 C481.7 722.8 483.8 720.5 485.9 718.2 C488.0 716.0 490.1 713.7 492.3 711.5 C494.5 709.3 496.8 707.1 499.0 704.9 C501.3 702.7 503.6 700.6 505.9 698.5 C508.2 696.5 510.6 694.4 513.0 692.4 C515.4 690.4 517.8 688.5 520.3 686.6 C522.7 684.8 525.2 683.0 527.7 681.2 C530.2 679.5 532.8 677.8 535.4 676.2 C538.0 674.7 540.6 673.2 543.2 671.8 C545.8 670.3 548.5 669.0 551.2 667.8 C553.9 666.6 556.6 665.5 559.4 664.4 C562.1 663.4 564.9 662.5 567.7 661.7 C570.5 661.0 573.3 660.3 576.2 659.7 C579.0 659.2 581.9 658.7 584.8 658.4 C587.7 658.1 590.6 657.9 593.5 657.7 C596.4 657.6 599.4 657.6 602.3 657.7 C605.2 657.8 608.2 657.9 611.2 658.2 C614.1 658.5 617.1 658.8 620.1 659.2 C623.0 659.7 626.0 660.2 629.0 660.8 C632.0 661.4 634.9 662.0 637.9 662.8 C640.9 663.5 643.8 664.3 646.8 665.2 C649.7 666.1 652.7 667.0 655.6 668.0 C658.5 669.0 661.4 670.0 664.3 671.1 C667.2 672.2 670.1 673.3 672.9 674.5 C675.8 675.7 678.6 676.9 681.4 678.2 C684.2 679.5 687.0 680.8 689.8 682.1 C692.5 683.4 695.3 684.8 698.0 686.2 C700.7 687.6 703.4 689.0 706.0 690.5 C708.7 691.9 711.4 693.4 714.0 694.9 C716.7 696.4 719.3 697.9 721.9 699.5 C724.5 701.0 727.1 702.6 729.7 704.1 C732.3 705.7 734.8 707.3 737.4 708.9 C740.0 710.5 742.5 712.1 745.1 713.7 C747.7 715.3 750.2 716.9 752.8 718.6 C755.3 720.2 757.9 721.8 760.4 723.4 C763.0 725.0 765.5 726.7 768.1 728.3 C770.6 729.9 773.2 731.5 775.7 733.1 C778.3 734.7 780.8 736.3 783.4 737.9 C786.0 739.4 788.6 741.0 791.2 742.6 C793.8 744.1 796.4 745.6 799.0 747.2 C801.6 748.7 804.2 750.2 806.8 751.7 C809.5 753.2 812.1 754.6 814.8 756.1 C817.4 757.6 820.1 759.0 822.7 760.5 C825.4 761.9 828.1 763.3 830.7 764.7 C833.4 766.2 836.1 767.6 838.8 769.0 C841.5 770.4 844.2 771.7 846.9 773.1 C849.6 774.5 852.3 775.9 855.0 777.2 C857.7 778.6 860.4 779.9 863.1 781.3 C865.9 782.6 868.6 784.0 871.3 785.3 C874.0 786.6 876.8 788.0 879.5 789.3 C882.2 790.6 885.0 791.9 887.7 793.2 C890.5 794.5 893.2 795.8 895.9 797.1 C898.7 798.4 901.4 799.7 904.2 801.0 C906.9 802.2 909.7 803.5 912.5 804.8 C915.2 806.0 918.0 807.3 920.8 808.5 C923.5 809.8 926.3 811.0 929.1 812.3 C931.8 813.5 934.6 814.7 937.4 815.9 C940.2 817.2 943.0 818.4 945.7 819.6 C948.5 820.8 951.3 821.9 954.1 823.1 C956.9 824.3 959.7 825.5 962.5 826.6 C965.3 827.8 968.1 829.0 970.9 830.1 C973.7 831.3 976.5 832.4 979.4 833.5 C982.2 834.6 985.0 835.8 987.8 836.9 C990.6 838.0 993.5 839.1 996.3 840.1 C999.1 841.2 1001.9 842.3 1004.8 843.4 C1007.6 844.4 1010.5 845.5 1013.3 846.5 C1016.1 847.6 1019.0 848.6 1021.8 849.6 C1024.7 850.7 1027.5 851.7 1030.4 852.7 C1033.2 853.7 1036.1 854.7 1039.0 855.6 C1041.8 856.6 1044.7 857.6 1047.6 858.5 C1050.4 859.5 1053.3 860.4 1056.2 861.4 C1059.1 862.3 1062.0 863.2 1064.8 864.1 C1067.7 865.0 1070.6 865.9 1073.5 866.8 C1076.4 867.7 1079.3 868.6 1082.2 869.4 C1085.1 870.3 1088.0 871.1 1090.9 871.9 C1093.8 872.8 1096.7 873.6 1099.6 874.4 C1102.6 875.2 1105.5 876.0 1108.4 876.8 C1111.3 877.6 1114.2 878.3 1117.2 879.1 C1120.1 879.8 1123.0 880.6 1126.0 881.3 C1128.9 882.0 1131.8 882.7 1134.8 883.4 C1137.7 884.1 1140.7 884.8 1143.6 885.4 C1146.6 886.1 1149.5 886.8 1152.5 887.4 C1155.5 888.0 1158.4 888.7 1161.4 889.3 C1164.4 889.9 1167.3 890.5 1170.3 891.0 C1173.3 891.6 1176.2 892.2 1179.2 892.7 C1182.2 893.3 1185.2 893.8 1188.2 894.3 C1191.2 894.8 1194.2 895.3 1197.2 895.8 C1200.2 896.3 1203.2 896.8 1206.2 897.2 C1209.2 897.7 1212.2 898.1 1215.2 898.5 C1218.2 898.9 1221.2 899.3 1224.2 899.7 C1227.3 900.1 1230.3 900.4 1233.3 900.8 C1236.3 901.1 1239.4 901.5 1242.4 901.8 C1245.4 902.1 1248.5 902.4 1251.5 902.7 C1254.6 903.0 1257.6 903.2 1260.7 903.5 C1263.7 903.7 1268.3 904.0 1269.8 904.1" stroke="#C60E20" stroke-width="11"/>
<path d="M150.6 228.7 C150.7 230.3 151.1 234.8 151.3 237.8 C151.5 240.9 151.8 243.9 152.0 246.9 C152.2 250.0 152.5 253.0 152.7 256.0 C152.9 259.0 153.2 262.1 153.4 265.1 C153.6 268.1 153.9 271.1 154.1 274.2 C154.4 277.2 154.6 280.2 154.9 283.2 C155.1 286.2 155.4 289.3 155.6 292.3 C155.9 295.3 156.1 298.3 156.4 301.3 C156.6 304.3 156.9 307.3 157.2 310.4 C157.4 313.4 157.7 316.4 158.0 319.4 C158.2 322.4 158.5 325.4 158.8 328.4 C159.1 331.4 159.3 334.4 159.6 337.4 C159.9 340.4 160.2 343.5 160.5 346.5 C160.8 349.5 161.1 352.5 161.4 355.5 C161.6 358.5 161.9 361.5 162.2 364.5 C162.5 367.5 162.8 370.5 163.2 373.5 C163.5 376.5 163.8 379.5 164.1 382.5 C164.4 385.5 164.7 388.5 165.0 391.5 C165.3 394.5 165.7 397.4 166.0 400.4 C166.3 403.4 166.7 406.4 167.0 409.4 C167.3 412.4 167.7 415.4 168.0 418.4 C168.3 421.4 168.7 424.4 169.0 427.4 C169.4 430.4 169.7 433.3 170.1 436.3 C170.4 439.3 170.8 442.3 171.2 445.3 C171.5 448.3 171.9 451.3 172.2 454.3 C172.6 457.2 173.0 460.2 173.4 463.2 C173.7 466.2 174.1 469.2 174.5 472.2 C174.9 475.1 175.3 478.1 175.7 481.1 C176.1 484.1 176.5 487.1 176.9 490.1 C177.3 493.0 177.7 496.0 178.1 499.0 C178.5 502.0 178.9 505.0 179.3 507.9 C179.7 510.9 180.2 513.9 180.6 516.9 C181.0 519.9 181.4 522.8 181.9 525.8 C182.3 528.8 182.8 531.8 183.2 534.7 C183.6 537.7 184.1 540.7 184.5 543.7 C185.0 546.6 185.5 549.6 185.9 552.6 C186.4 555.6 186.8 558.6 187.3 561.5 C187.8 564.5 188.3 567.5 188.7 570.5 C189.2 573.4 189.7 576.4 190.2 579.4 C190.7 582.3 191.2 585.3 191.7 588.3 C192.2 591.3 192.7 594.2 193.2 597.2 C193.7 600.2 194.2 603.2 194.7 606.1 C195.2 609.1 195.8 612.1 196.3 615.1 C196.8 618.0 197.4 621.0 197.9 624.0 C198.4 626.9 199.0 629.9 199.5 632.9 C200.1 635.9 200.6 638.8 201.2 641.8 C201.7 644.8 202.3 647.8 202.9 650.7 C203.5 653.7 204.0 656.7 204.6 659.7 C205.2 662.6 205.8 665.6 206.4 668.6 C207.0 671.5 207.6 674.5 208.2 677.5 C208.8 680.5 209.4 683.4 210.0 686.4 C210.6 689.4 211.2 692.4 211.8 695.3 C212.5 698.3 213.1 701.3 213.7 704.3 C214.4 707.2 215.0 710.2 215.7 713.2 C216.3 716.1 217.0 719.1 217.7 722.1 C218.4 725.0 219.1 728.0 219.8 730.9 C220.5 733.9 221.3 736.8 222.1 739.8 C222.9 742.7 223.7 745.6 224.5 748.5 C225.4 751.4 226.2 754.3 227.1 757.2 C228.1 760.1 229.0 763.0 230.0 765.9 C231.0 768.7 232.0 771.6 233.1 774.4 C234.2 777.2 235.3 780.0 236.5 782.8 C237.7 785.6 239.0 788.4 240.3 791.1 C241.6 793.9 242.9 796.6 244.4 799.3 C245.8 802.0 247.3 804.7 248.8 807.3 C250.4 810.0 252.0 812.6 253.7 815.2 C255.4 817.8 257.2 820.4 259.0 822.9 C260.8 825.4 262.7 827.9 264.7 830.3 C266.7 832.7 268.7 835.1 270.8 837.3 C272.9 839.6 275.0 841.8 277.2 843.9 C279.4 845.9 281.7 847.9 284.0 849.8 C286.3 851.7 288.6 853.5 291.0 855.1 C293.4 856.7 295.9 858.2 298.3 859.6 C300.8 860.9 303.3 862.1 305.9 863.1 C308.4 864.2 311.0 865.1 313.7 865.7 C316.3 866.4 318.9 866.9 321.6 867.2 C324.3 867.5 327.0 867.6 329.7 867.5 C332.4 867.4 335.1 867.1 337.8 866.6 C340.6 866.1 343.3 865.4 346.0 864.6 C348.7 863.8 351.4 862.8 354.1 861.6 C356.8 860.4 359.5 859.1 362.1 857.7 C364.7 856.2 367.3 854.6 369.8 852.9 C372.3 851.2 374.8 849.4 377.2 847.5 C379.6 845.5 382.0 843.5 384.3 841.4 C386.7 839.3 389.0 837.1 391.2 834.8 C393.5 832.5 395.7 830.2 397.8 827.8 C400.0 825.5 402.1 823.0 404.2 820.6 C406.3 818.1 408.3 815.7 410.3 813.2 C412.4 810.7 414.3 808.2 416.3 805.7 C418.2 803.2 420.1 800.8 422.0 798.3 C423.8 795.8 425.7 793.4 427.5 791.0 C429.3 788.5 431.1 786.1 432.9 783.7 C434.7 781.3 436.4 778.9 438.2 776.5 C439.9 774.1 441.7 771.7 443.4 769.3 C445.2 766.9 446.9 764.6 448.7 762.2 C450.4 759.8 452.2 757.5 453.9 755.1 C455.7 752.8 457.5 750.4 459.3 748.1 C461.1 745.8 462.9 743.4 464.7 741.1 C466.6 738.8 468.4 736.5 470.3 734.2 C472.3 731.9 474.2 729.5 476.2 727.2 C478.1 724.9 480.2 722.6 482.2 720.3 C484.3 718.1 486.4 715.8 488.5 713.5 C490.6 711.3 492.8 709.0 495.0 706.8 C497.2 704.6 499.4 702.5 501.7 700.3 C504.0 698.2 506.3 696.1 508.6 694.1 C511.0 692.0 513.3 690.0 515.7 688.1 C518.1 686.2 520.6 684.3 523.1 682.5 C525.5 680.7 528.0 678.9 530.6 677.2 C533.1 675.6 535.7 674.0 538.3 672.5 C540.8 671.0 543.5 669.5 546.1 668.2 C548.8 666.9 551.4 665.6 554.2 664.5 C556.9 663.3 559.6 662.3 562.3 661.4 C565.1 660.5 567.9 659.6 570.7 658.9 C573.5 658.2 576.3 657.7 579.2 657.2 C582.0 656.7 584.9 656.4 587.8 656.1 C590.7 655.9 593.6 655.7 596.5 655.7 C599.5 655.6 602.4 655.7 605.3 655.8 C608.3 655.9 611.2 656.2 614.2 656.5 C617.1 656.8 620.1 657.2 623.0 657.7 C626.0 658.2 629.0 658.8 631.9 659.4 C634.9 660.0 637.8 660.7 640.8 661.5 C643.7 662.3 646.7 663.1 649.6 664.0 C652.5 664.9 655.5 665.9 658.4 666.9 C661.3 667.9 664.1 669.0 667.0 670.1 C669.9 671.3 672.7 672.4 675.6 673.6 C678.4 674.8 681.2 676.1 684.0 677.4 C686.7 678.6 689.5 680.0 692.2 681.3 C695.0 682.7 697.7 684.0 700.4 685.5 C703.0 686.9 705.7 688.3 708.4 689.8 C711.0 691.2 713.6 692.7 716.3 694.2 C718.9 695.7 721.5 697.2 724.1 698.8 C726.7 700.3 729.2 701.9 731.8 703.5 C734.4 705.0 737.0 706.6 739.5 708.2 C742.1 709.8 744.6 711.4 747.2 713.0 C749.7 714.6 752.2 716.2 754.8 717.8 C757.3 719.4 759.8 721.1 762.4 722.7 C764.9 724.3 767.5 725.9 770.0 727.5 C772.5 729.1 775.1 730.7 777.6 732.3 C780.2 733.9 782.7 735.5 785.3 737.0 C787.9 738.6 790.5 740.1 793.0 741.7 C795.6 743.2 798.2 744.7 800.8 746.2 C803.4 747.7 806.1 749.2 808.7 750.7 C811.3 752.2 813.9 753.7 816.6 755.1 C819.2 756.6 821.9 758.0 824.5 759.4 C827.2 760.9 829.8 762.3 832.5 763.7 C835.2 765.1 837.8 766.5 840.5 767.9 C843.2 769.3 845.9 770.6 848.6 772.0 C851.3 773.4 854.0 774.7 856.7 776.1 C859.4 777.4 862.1 778.8 864.8 780.1 C867.5 781.4 870.2 782.8 872.9 784.1 C875.7 785.4 878.4 786.7 881.1 788.0 C883.8 789.4 886.5 790.7 889.3 792.0 C892.0 793.3 894.7 794.6 897.5 795.8 C900.2 797.1 902.9 798.4 905.7 799.7 C908.4 800.9 911.2 802.2 913.9 803.5 C916.7 804.7 919.4 806.0 922.2 807.2 C924.9 808.4 927.7 809.7 930.5 810.9 C933.2 812.1 936.0 813.3 938.8 814.5 C941.5 815.7 944.3 816.9 947.1 818.1 C949.9 819.3 952.6 820.5 955.4 821.7 C958.2 822.9 961.0 824.0 963.8 825.2 C966.6 826.3 969.4 827.5 972.2 828.6 C975.0 829.7 977.8 830.9 980.6 832.0 C983.4 833.1 986.2 834.2 989.0 835.3 C991.8 836.4 994.6 837.5 997.4 838.6 C1000.2 839.7 1003.1 840.7 1005.9 841.8 C1008.7 842.8 1011.5 843.9 1014.4 844.9 C1017.2 846.0 1020.0 847.0 1022.9 848.0 C1025.7 849.0 1028.5 850.0 1031.4 851.0 C1034.2 852.0 1037.1 853.0 1039.9 854.0 C1042.8 854.9 1045.6 855.9 1048.5 856.8 C1051.4 857.8 1054.2 858.7 1057.1 859.7 C1060.0 860.6 1062.8 861.5 1065.7 862.4 C1068.6 863.3 1071.5 864.2 1074.3 865.1 C1077.2 865.9 1080.1 866.8 1083.0 867.6 C1085.9 868.5 1088.8 869.3 1091.7 870.2 C1094.6 871.0 1097.5 871.8 1100.4 872.6 C1103.3 873.4 1106.2 874.2 1109.1 875.0 C1112.0 875.7 1114.9 876.5 1117.8 877.2 C1120.7 878.0 1123.7 878.7 1126.6 879.4 C1129.5 880.1 1132.4 880.9 1135.4 881.5 C1138.3 882.2 1141.2 882.9 1144.2 883.6 C1147.1 884.2 1150.0 884.9 1153.0 885.5 C1155.9 886.1 1158.9 886.8 1161.8 887.4 C1164.8 888.0 1167.8 888.5 1170.7 889.1 C1173.7 889.7 1176.6 890.3 1179.6 890.8 C1182.6 891.3 1185.6 891.9 1188.5 892.4 C1191.5 892.9 1194.5 893.4 1197.5 893.9 C1200.5 894.3 1203.4 894.8 1206.4 895.2 C1209.4 895.7 1212.4 896.1 1215.4 896.5 C1218.4 896.9 1221.4 897.3 1224.4 897.7 C1227.4 898.1 1230.5 898.5 1233.5 898.8 C1236.5 899.2 1239.5 899.5 1242.5 899.8 C1245.5 900.1 1248.6 900.4 1251.6 900.7 C1254.6 901.0 1257.7 901.2 1260.7 901.5 C1263.7 901.7 1268.3 902.0 1269.8 902.1" stroke="#C60E20" stroke-width="11" stroke-dasharray="16.5 30.7"/>
<path d="M149.2 95.1 C149.3 96.6 149.6 101.1 149.8 104.1 C150.0 107.2 150.2 110.2 150.4 113.2 C150.6 116.2 150.8 119.2 151.0 122.2 C151.2 125.3 151.4 128.3 151.6 131.3 C151.8 134.3 152.0 137.3 152.2 140.4 C152.4 143.4 152.6 146.4 152.8 149.4 C153.0 152.4 153.3 155.5 153.5 158.5 C153.7 161.5 153.9 164.5 154.1 167.5 C154.4 170.6 154.6 173.6 154.8 176.6 C155.0 179.6 155.3 182.6 155.5 185.7 C155.7 188.7 155.9 191.7 156.2 194.7 C156.4 197.7 156.6 200.8 156.9 203.8 C157.1 206.8 157.4 209.8 157.6 212.8 C157.8 215.9 158.1 218.9 158.3 221.9 C158.6 224.9 158.8 227.9 159.1 231.0 C159.3 234.0 159.6 237.0 159.8 240.0 C160.1 243.0 160.3 246.1 160.6 249.1 C160.9 252.1 161.1 255.1 161.4 258.1 C161.7 261.2 161.9 264.2 162.2 267.2 C162.5 270.2 162.7 273.2 163.0 276.2 C163.3 279.3 163.5 282.3 163.8 285.3 C164.1 288.3 164.4 291.3 164.7 294.4 C164.9 297.4 165.2 300.4 165.5 303.4 C165.8 306.4 166.1 309.4 166.4 312.5 C166.7 315.5 167.0 318.5 167.3 321.5 C167.6 324.5 167.9 327.5 168.2 330.5 C168.5 333.6 168.8 336.6 169.1 339.6 C169.4 342.6 169.7 345.6 170.0 348.6 C170.3 351.6 170.7 354.7 171.0 357.7 C171.3 360.7 171.6 363.7 171.9 366.7 C172.3 369.7 172.6 372.7 172.9 375.8 C173.2 378.8 173.6 381.8 173.9 384.8 C174.2 387.8 174.6 390.8 174.9 393.8 C175.3 396.8 175.6 399.8 176.0 402.9 C176.3 405.9 176.6 408.9 177.0 411.9 C177.4 414.9 177.7 417.9 178.1 420.9 C178.4 423.9 178.8 426.9 179.1 429.9 C179.5 432.9 179.9 435.9 180.2 439.0 C180.6 442.0 181.0 445.0 181.4 448.0 C181.7 451.0 182.1 454.0 182.5 457.0 C182.9 460.0 183.3 463.0 183.7 466.0 C184.0 469.0 184.4 472.0 184.8 475.0 C185.2 478.0 185.6 481.0 186.0 484.0 C186.4 487.0 186.8 490.0 187.2 493.0 C187.6 496.0 188.1 499.0 188.5 502.0 C188.9 505.0 189.3 508.0 189.7 511.0 C190.1 514.0 190.6 517.0 191.0 520.0 C191.4 523.0 191.9 526.0 192.3 529.0 C192.7 532.0 193.2 535.0 193.6 538.0 C194.0 541.0 194.5 544.0 194.9 547.0 C195.4 550.0 195.8 553.0 196.3 556.0 C196.7 558.9 197.2 561.9 197.7 564.9 C198.1 567.9 198.6 570.9 199.1 573.9 C199.5 576.9 200.0 579.9 200.5 582.9 C200.9 585.8 201.4 588.8 201.9 591.8 C202.4 594.8 202.9 597.8 203.4 600.8 C203.9 603.7 204.4 606.7 204.9 609.7 C205.4 612.7 205.9 615.6 206.4 618.6 C206.9 621.6 207.5 624.6 208.0 627.5 C208.5 630.5 209.0 633.5 209.6 636.4 C210.1 639.4 210.7 642.3 211.2 645.3 C211.8 648.2 212.3 651.2 212.9 654.1 C213.5 657.1 214.0 660.0 214.6 663.0 C215.2 665.9 215.8 668.8 216.4 671.8 C217.0 674.7 217.6 677.6 218.2 680.6 C218.8 683.5 219.4 686.4 220.0 689.4 C220.7 692.3 221.3 695.2 222.0 698.2 C222.7 701.1 223.3 704.1 224.1 707.1 C224.8 710.0 225.5 713.0 226.2 716.0 C227.0 719.0 227.8 722.0 228.6 725.0 C229.4 728.1 230.2 731.1 231.0 734.2 C231.9 737.3 232.8 740.4 233.7 743.5 C234.6 746.6 235.6 749.7 236.6 752.8 C237.7 755.8 238.7 758.9 239.9 761.9 C241.0 764.9 242.2 767.9 243.5 770.8 C244.7 773.7 246.1 776.6 247.5 779.3 C248.9 782.1 250.4 784.8 252.1 787.3 C253.7 789.9 255.4 792.3 257.2 794.6 C259.0 797.0 260.9 799.1 263.0 801.2 C265.0 803.2 267.1 805.1 269.3 806.8 C271.5 808.5 273.8 810.0 276.2 811.3 C278.6 812.7 281.1 813.8 283.6 814.8 C286.1 815.7 288.7 816.5 291.3 817.0 C293.9 817.5 296.6 817.7 299.4 817.8 C302.1 817.8 304.9 817.6 307.7 817.2 C310.5 816.8 313.3 816.2 316.2 815.4 C319.1 814.7 322.0 813.7 324.9 812.7 C327.8 811.6 330.7 810.4 333.7 809.2 C336.7 807.9 339.6 806.5 342.6 805.2 C345.6 803.8 348.6 802.3 351.6 800.9 C354.6 799.5 357.7 798.0 360.7 796.6 C363.7 795.2 366.7 793.8 369.7 792.5 C372.7 791.2 375.7 789.9 378.7 788.8 C381.7 787.7 384.6 786.7 387.6 785.7 C390.6 784.8 393.5 784.0 396.5 783.3 C399.4 782.6 402.3 782.0 405.3 781.5 C408.2 781.0 411.1 780.6 414.0 780.3 C416.9 780.0 419.8 779.8 422.7 779.6 C425.5 779.5 428.4 779.5 431.3 779.5 C434.1 779.5 437.0 779.7 439.9 779.9 C442.7 780.1 445.5 780.3 448.4 780.7 C451.2 781.0 454.0 781.4 456.8 781.9 C459.7 782.4 462.5 783.0 465.3 783.6 C468.1 784.2 470.9 784.9 473.7 785.6 C476.5 786.4 479.3 787.2 482.1 788.0 C484.8 788.9 487.6 789.8 490.4 790.7 C493.2 791.7 495.9 792.7 498.7 793.7 C501.5 794.7 504.2 795.8 507.0 796.9 C509.8 798.1 512.5 799.2 515.3 800.4 C518.0 801.6 520.8 802.8 523.5 804.1 C526.3 805.4 529.0 806.6 531.8 807.9 C534.5 809.3 537.3 810.6 540.0 811.9 C542.8 813.3 545.5 814.7 548.3 816.0 C551.0 817.4 553.8 818.8 556.5 820.2 C559.3 821.6 562.0 823.0 564.8 824.5 C567.5 825.9 570.3 827.3 573.0 828.7 C575.8 830.1 578.5 831.6 581.3 833.0 C584.0 834.4 586.8 835.8 589.6 837.2 C592.3 838.6 595.1 840.0 597.9 841.3 C600.6 842.7 603.4 844.1 606.2 845.4 C609.0 846.7 611.8 848.1 614.5 849.4 C617.3 850.7 620.1 852.0 622.9 853.2 C625.7 854.5 628.5 855.8 631.3 857.0 C634.1 858.2 636.9 859.4 639.7 860.6 C642.5 861.9 645.3 863.0 648.2 864.2 C651.0 865.4 653.8 866.5 656.6 867.7 C659.4 868.8 662.3 869.9 665.1 871.0 C667.9 872.1 670.8 873.2 673.6 874.3 C676.4 875.4 679.3 876.4 682.1 877.5 C685.0 878.5 687.8 879.5 690.7 880.5 C693.5 881.5 696.4 882.5 699.3 883.5 C702.1 884.5 705.0 885.4 707.9 886.4 C710.7 887.3 713.6 888.2 716.5 889.2 C719.4 890.1 722.2 891.0 725.1 891.8 C728.0 892.7 730.9 893.6 733.8 894.4 C736.7 895.3 739.6 896.1 742.5 896.9 C745.4 897.7 748.3 898.5 751.2 899.3 C754.1 900.1 757.0 900.8 759.9 901.6 C762.8 902.3 765.7 903.1 768.6 903.8 C771.6 904.5 774.5 905.2 777.4 905.9 C780.3 906.6 783.3 907.3 786.2 907.9 C789.1 908.6 792.1 909.2 795.0 909.8 C798.0 910.5 800.9 911.1 803.9 911.7 C806.8 912.3 809.7 912.8 812.7 913.4 C815.7 914.0 818.6 914.5 821.6 915.1 C824.5 915.6 827.5 916.1 830.5 916.6 C833.4 917.1 836.4 917.6 839.4 918.1 C842.4 918.5 845.3 919.0 848.3 919.4 C851.3 919.9 854.3 920.3 857.3 920.7 C860.2 921.2 863.2 921.6 866.2 922.0 C869.2 922.3 872.2 922.7 875.2 923.1 C878.2 923.5 881.2 923.8 884.2 924.2 C887.2 924.5 890.2 924.8 893.2 925.1 C896.2 925.5 899.2 925.8 902.2 926.1 C905.3 926.4 908.3 926.6 911.3 926.9 C914.3 927.2 917.3 927.5 920.3 927.7 C923.4 928.0 926.4 928.2 929.4 928.4 C932.4 928.7 935.4 928.9 938.5 929.1 C941.5 929.3 944.5 929.5 947.5 929.7 C950.6 929.9 953.6 930.1 956.6 930.3 C959.7 930.5 962.7 930.6 965.7 930.8 C968.8 931.0 971.8 931.1 974.8 931.3 C977.9 931.4 980.9 931.6 984.0 931.7 C987.0 931.8 990.0 931.9 993.1 932.1 C996.1 932.2 999.2 932.3 1002.2 932.4 C1005.2 932.5 1008.3 932.6 1011.3 932.7 C1014.4 932.8 1017.4 932.9 1020.5 933.0 C1023.5 933.0 1026.6 933.1 1029.6 933.2 C1032.6 933.3 1035.7 933.3 1038.7 933.4 C1041.8 933.5 1044.8 933.5 1047.9 933.6 C1050.9 933.6 1054.0 933.7 1057.0 933.7 C1060.1 933.8 1063.1 933.8 1066.1 933.9 C1069.2 933.9 1072.2 933.9 1075.3 934.0 C1078.3 934.0 1081.4 934.0 1084.4 934.1 C1087.5 934.1 1090.5 934.1 1093.5 934.2 C1096.6 934.2 1099.6 934.2 1102.7 934.2 C1105.7 934.3 1108.8 934.3 1111.8 934.3 C1114.8 934.3 1117.9 934.3 1120.9 934.4 C1123.9 934.4 1127.0 934.4 1130.0 934.4 C1133.1 934.5 1136.1 934.5 1139.1 934.5 C1142.2 934.5 1145.2 934.5 1148.2 934.6 C1151.3 934.6 1154.3 934.6 1157.3 934.6 C1160.3 934.7 1163.4 934.7 1166.4 934.7 C1169.4 934.7 1172.4 934.8 1175.5 934.8 C1178.5 934.8 1181.5 934.9 1184.5 934.9 C1187.5 934.9 1190.6 935.0 1193.6 935.0 C1196.6 935.1 1199.6 935.1 1202.6 935.2 C1205.6 935.2 1208.6 935.3 1211.6 935.3 C1214.6 935.4 1217.6 935.5 1220.6 935.5 C1223.6 935.6 1226.6 935.7 1229.6 935.7 C1232.6 935.8 1235.6 935.9 1238.6 936.0 C1241.6 936.1 1244.6 936.2 1247.6 936.3 C1250.5 936.4 1253.5 936.5 1256.5 936.6 C1259.5 936.7 1263.9 936.9 1265.4 936.9" stroke="#FF8000" stroke-width="11" stroke-linecap="butt"/>
<path d="M149.7 95.1 C149.8 96.6 150.0 101.1 150.1 104.1 C150.2 107.1 150.4 110.1 150.5 113.1 C150.6 116.2 150.8 119.2 150.9 122.2 C151.1 125.2 151.2 128.2 151.4 131.2 C151.5 134.2 151.7 137.3 151.8 140.3 C152.0 143.3 152.1 146.3 152.3 149.3 C152.4 152.3 152.6 155.4 152.8 158.4 C152.9 161.4 153.1 164.4 153.2 167.4 C153.4 170.4 153.6 173.4 153.7 176.5 C153.9 179.5 154.1 182.5 154.3 185.5 C154.4 188.5 154.6 191.5 154.8 194.5 C155.0 197.6 155.2 200.6 155.3 203.6 C155.5 206.6 155.7 209.6 155.9 212.6 C156.1 215.7 156.3 218.7 156.5 221.7 C156.7 224.7 156.9 227.7 157.1 230.7 C157.3 233.7 157.5 236.8 157.7 239.8 C157.9 242.8 158.1 245.8 158.3 248.8 C158.5 251.8 158.7 254.8 158.9 257.9 C159.2 260.9 159.4 263.9 159.6 266.9 C159.8 269.9 160.1 272.9 160.3 275.9 C160.5 278.9 160.7 282.0 161.0 285.0 C161.2 288.0 161.5 291.0 161.7 294.0 C161.9 297.0 162.2 300.0 162.4 303.0 C162.7 306.0 162.9 309.1 163.2 312.1 C163.4 315.1 163.7 318.1 164.0 321.1 C164.2 324.1 164.5 327.1 164.8 330.1 C165.0 333.1 165.3 336.1 165.6 339.2 C165.8 342.2 166.1 345.2 166.4 348.2 C166.7 351.2 167.0 354.2 167.3 357.2 C167.6 360.2 167.8 363.2 168.1 366.2 C168.4 369.2 168.7 372.2 169.0 375.2 C169.4 378.2 169.7 381.2 170.0 384.3 C170.3 387.3 170.6 390.3 170.9 393.3 C171.2 396.3 171.6 399.3 171.9 402.3 C172.2 405.3 172.6 408.3 172.9 411.3 C173.2 414.3 173.6 417.3 173.9 420.3 C174.3 423.3 174.6 426.3 175.0 429.3 C175.3 432.3 175.7 435.3 176.0 438.3 C176.4 441.3 176.8 444.3 177.1 447.3 C177.5 450.3 177.9 453.3 178.3 456.3 C178.7 459.3 179.0 462.3 179.4 465.3 C179.8 468.3 180.2 471.2 180.6 474.2 C181.0 477.2 181.4 480.2 181.8 483.2 C182.2 486.2 182.6 489.2 183.0 492.2 C183.5 495.2 183.9 498.2 184.3 501.2 C184.7 504.2 185.2 507.2 185.6 510.1 C186.0 513.1 186.5 516.1 186.9 519.1 C187.4 522.1 187.8 525.1 188.3 528.1 C188.7 531.1 189.2 534.0 189.7 537.0 C190.1 540.0 190.6 543.0 191.1 546.0 C191.5 549.0 192.0 551.9 192.5 554.9 C193.0 557.9 193.5 560.9 194.0 563.9 C194.5 566.8 195.0 569.8 195.5 572.8 C196.0 575.8 196.5 578.8 197.0 581.7 C197.6 584.7 198.1 587.7 198.6 590.7 C199.1 593.6 199.7 596.6 200.2 599.6 C200.7 602.6 201.3 605.5 201.8 608.5 C202.4 611.5 203.0 614.4 203.5 617.4 C204.1 620.4 204.6 623.3 205.2 626.3 C205.8 629.3 206.4 632.2 207.0 635.2 C207.5 638.2 208.1 641.1 208.7 644.1 C209.3 647.0 209.9 650.0 210.5 652.9 C211.1 655.9 211.7 658.8 212.3 661.8 C213.0 664.7 213.6 667.6 214.2 670.6 C214.8 673.5 215.5 676.4 216.1 679.4 C216.7 682.3 217.4 685.2 218.0 688.1 C218.7 691.0 219.3 694.0 220.0 696.9 C220.6 699.8 221.3 702.7 221.9 705.6 C222.6 708.5 223.3 711.4 224.0 714.2 C224.7 717.1 225.4 720.0 226.2 722.9 C226.9 725.8 227.7 728.6 228.6 731.5 C229.4 734.4 230.3 737.3 231.2 740.1 C232.1 743.0 233.1 745.9 234.1 748.7 C235.2 751.6 236.3 754.4 237.5 757.3 C238.6 760.2 239.9 763.0 241.2 765.9 C242.6 768.7 244.0 771.6 245.5 774.5 C247.0 777.3 248.6 780.3 250.3 783.0 C252.0 785.7 253.9 788.4 255.9 790.6 C257.9 792.9 260.0 794.9 262.3 796.4 C264.6 797.8 267.2 798.8 269.8 799.4 C272.4 800.0 275.1 800.2 277.9 800.0 C280.7 799.9 283.5 799.3 286.4 798.6 C289.2 797.8 292.1 796.7 294.8 795.5 C297.6 794.3 300.3 792.8 302.9 791.2 C305.5 789.7 308.0 787.9 310.4 786.1 C312.8 784.3 315.0 782.3 317.2 780.3 C319.4 778.3 321.5 776.2 323.5 774.0 C325.5 771.8 327.5 769.5 329.4 767.2 C331.3 764.9 333.2 762.5 335.0 760.1 C336.8 757.7 338.6 755.2 340.4 752.7 C342.2 750.3 344.0 747.8 345.7 745.3 C347.5 742.8 349.3 740.3 351.1 737.8 C352.9 735.3 354.7 732.9 356.6 730.4 C358.5 728.0 360.4 725.6 362.3 723.3 C364.3 720.9 366.3 718.6 368.5 716.4 C370.6 714.2 372.7 712.1 375.0 710.0 C377.3 708.0 379.7 706.0 382.2 704.1 C384.6 702.3 387.2 700.5 389.8 698.9 C392.5 697.2 395.2 695.6 398.0 694.2 C400.7 692.7 403.6 691.4 406.4 690.2 C409.3 688.9 412.2 687.8 415.2 686.8 C418.1 685.8 421.1 684.9 424.1 684.2 C427.1 683.4 430.1 682.8 433.1 682.3 C436.1 681.8 439.1 681.4 442.1 681.2 C445.1 680.9 448.1 680.8 451.0 680.8 C454.0 680.9 456.9 681.1 459.8 681.4 C462.7 681.7 465.6 682.2 468.4 682.7 C471.2 683.3 473.9 684.1 476.7 684.9 C479.4 685.8 482.1 686.7 484.7 687.8 C487.4 688.9 490.0 690.1 492.6 691.3 C495.2 692.6 497.8 694.0 500.3 695.4 C502.9 696.9 505.4 698.4 507.9 700.0 C510.4 701.6 512.9 703.2 515.4 704.9 C517.9 706.6 520.3 708.4 522.8 710.2 C525.2 712.0 527.7 713.8 530.1 715.7 C532.5 717.5 535.0 719.4 537.4 721.3 C539.8 723.2 542.2 725.1 544.6 727.0 C547.1 728.9 549.5 730.8 551.9 732.7 C554.4 734.6 556.8 736.5 559.2 738.4 C561.6 740.3 564.1 742.1 566.5 744.0 C569.0 745.9 571.4 747.8 573.9 749.6 C576.3 751.5 578.7 753.4 581.2 755.2 C583.7 757.1 586.1 758.9 588.6 760.8 C591.0 762.6 593.5 764.4 596.0 766.3 C598.4 768.1 600.9 769.9 603.4 771.7 C605.8 773.5 608.3 775.3 610.8 777.1 C613.3 778.9 615.8 780.7 618.3 782.5 C620.7 784.3 623.2 786.0 625.7 787.8 C628.2 789.5 630.7 791.3 633.3 793.0 C635.8 794.7 638.3 796.5 640.8 798.2 C643.3 799.9 645.8 801.6 648.4 803.3 C650.9 805.0 653.4 806.7 656.0 808.3 C658.5 810.0 661.1 811.6 663.6 813.3 C666.2 814.9 668.7 816.6 671.3 818.2 C673.8 819.8 676.4 821.4 679.0 823.0 C681.6 824.5 684.1 826.1 686.7 827.7 C689.3 829.2 691.9 830.8 694.5 832.3 C697.1 833.8 699.7 835.3 702.3 836.8 C705.0 838.3 707.6 839.8 710.2 841.3 C712.8 842.7 715.5 844.2 718.1 845.6 C720.7 847.0 723.4 848.4 726.0 849.8 C728.7 851.2 731.4 852.6 734.0 853.9 C736.7 855.3 739.4 856.6 742.1 857.9 C744.8 859.2 747.5 860.5 750.2 861.8 C752.9 863.1 755.6 864.3 758.3 865.6 C761.0 866.8 763.7 868.0 766.5 869.2 C769.2 870.4 771.9 871.6 774.7 872.7 C777.4 873.9 780.2 875.0 783.0 876.1 C785.7 877.2 788.5 878.3 791.3 879.3 C794.1 880.4 796.9 881.4 799.7 882.5 C802.5 883.5 805.3 884.5 808.1 885.5 C811.0 886.4 813.8 887.4 816.6 888.3 C819.5 889.2 822.3 890.2 825.1 891.1 C828.0 891.9 830.9 892.8 833.7 893.7 C836.6 894.5 839.5 895.4 842.3 896.2 C845.2 897.0 848.1 897.8 851.0 898.6 C853.9 899.3 856.8 900.1 859.7 900.8 C862.6 901.6 865.5 902.3 868.4 903.0 C871.3 903.7 874.3 904.4 877.2 905.1 C880.1 905.7 883.1 906.4 886.0 907.0 C888.9 907.7 891.9 908.3 894.8 908.9 C897.8 909.5 900.8 910.1 903.7 910.6 C906.7 911.2 909.6 911.8 912.6 912.3 C915.6 912.8 918.6 913.4 921.5 913.9 C924.5 914.4 927.5 914.9 930.5 915.4 C933.5 915.8 936.5 916.3 939.5 916.8 C942.5 917.2 945.5 917.7 948.5 918.1 C951.5 918.5 954.5 918.9 957.5 919.3 C960.5 919.7 963.5 920.1 966.5 920.5 C969.6 920.8 972.6 921.2 975.6 921.6 C978.6 921.9 981.6 922.2 984.7 922.6 C987.7 922.9 990.7 923.2 993.8 923.5 C996.8 923.8 999.8 924.1 1002.9 924.4 C1005.9 924.7 1008.9 925.0 1012.0 925.2 C1015.0 925.5 1018.1 925.7 1021.1 926.0 C1024.1 926.2 1027.2 926.5 1030.2 926.7 C1033.3 926.9 1036.3 927.1 1039.4 927.3 C1042.4 927.5 1045.5 927.7 1048.5 927.9 C1051.6 928.1 1054.6 928.3 1057.6 928.5 C1060.7 928.6 1063.7 928.8 1066.8 929.0 C1069.8 929.1 1072.9 929.3 1075.9 929.4 C1079.0 929.6 1082.0 929.7 1085.1 929.8 C1088.1 930.0 1091.2 930.1 1094.2 930.2 C1097.3 930.3 1100.3 930.5 1103.4 930.6 C1106.4 930.7 1109.4 930.8 1112.5 930.9 C1115.5 931.0 1118.6 931.1 1121.6 931.2 C1124.6 931.3 1127.7 931.3 1130.7 931.4 C1133.7 931.5 1136.8 931.6 1139.8 931.7 C1142.8 931.7 1145.9 931.8 1148.9 931.9 C1151.9 932.0 1154.9 932.0 1157.9 932.1 C1161.0 932.1 1164.0 932.2 1167.0 932.3 C1170.0 932.3 1173.0 932.4 1176.0 932.4 C1179.0 932.5 1182.0 932.6 1185.0 932.6 C1188.0 932.7 1191.0 932.7 1194.0 932.8 C1197.0 932.8 1200.0 932.9 1203.0 932.9 C1206.0 933.0 1208.9 933.0 1211.9 933.1 C1214.9 933.1 1217.9 933.2 1220.8 933.3 C1223.8 933.3 1226.7 933.4 1229.7 933.4 C1232.7 933.5 1235.6 933.5 1238.6 933.6 C1241.5 933.7 1244.4 933.7 1247.4 933.8 C1250.3 933.9 1253.2 933.9 1256.2 934.0 C1259.1 934.1 1263.4 934.2 1264.9 934.2" stroke="#FF8000" stroke-width="11" stroke-dasharray="16.5 30.7" stroke-dashoffset="-10.5"/>
</g>
<text transform="translate(429.5 1112)" class="at">Wavelength (nm)</text>
<text transform="translate(70.8 772) rotate(-90)" class="at" style="font-size:78.4px">Optical Absorption</text>
<line x1="413" y1="68.8" x2="520" y2="68.8" stroke="#000" stroke-width="12.5" stroke-linecap="round"/>
<text x="532.6" y="85.0" class="lg">CTO</text>
<line x1="413" y1="128.6" x2="520" y2="128.6" stroke="#C60E20" stroke-width="11.5" stroke-linecap="round"/>
<text x="533.8" y="144.7" class="lg">LCTO-0.25</text>
<line x1="863.2" y1="128.6" x2="971.0" y2="128.6" stroke="#C60E20" stroke-width="11.5" stroke-linecap="round" stroke-dasharray="16.5 30.7"/>
<text x="982.7" y="144.7" class="lg">CCTO-0.25</text>
<line x1="413" y1="188.4" x2="520" y2="188.4" stroke="#FF8000" stroke-width="11.5" stroke-linecap="round"/>
<text x="533.8" y="204.4" class="lg">LCTO-0.375</text>
<line x1="863.2" y1="188.4" x2="971.0" y2="188.4" stroke="#FF8000" stroke-width="11.5" stroke-linecap="round" stroke-dasharray="16.5 30.7"/>
<text x="982.7" y="204.4" class="lg">CCTO-0.375</text>
<line x1="413" y1="248.2" x2="520" y2="248.2" stroke="#36FF3A" stroke-width="11.5" stroke-linecap="round"/>
<text x="533.8" y="264.1" class="lg">LCOS1</text>
<line x1="866.2" y1="248.2" x2="974.0" y2="248.2" stroke="#36FF3A" stroke-width="11.5" stroke-linecap="round" stroke-dasharray="16.5 30.7"/>
<text x="985.7" y="264.1" class="lg">CCOS1</text>
<line x1="413" y1="308.0" x2="520" y2="308.0" stroke="#F8616A" stroke-width="11.5" stroke-linecap="round"/>
<text x="533.8" y="323.8" class="lg">LCOS1-0.25</text>
<line x1="870.0" y1="308.0" x2="977.8" y2="308.0" stroke="#F8616A" stroke-width="11.5" stroke-linecap="round" stroke-dasharray="16.5 30.7"/>
<text x="989.4" y="323.8" class="lg">CCOS1-0.25</text>
<line x1="413" y1="367.8" x2="520" y2="367.8" stroke="#4092CA" stroke-width="11.5" stroke-linecap="round"/>
<text x="533.8" y="383.5" class="lg">LCOS1-0.375</text>
<line x1="870.0" y1="367.8" x2="977.8" y2="367.8" stroke="#4092CA" stroke-width="11.5" stroke-linecap="round" stroke-dasharray="16.5 30.7"/>
<text x="989.4" y="383.5" class="lg">CCOS1-0.375</text>
</svg>
</body></html>
